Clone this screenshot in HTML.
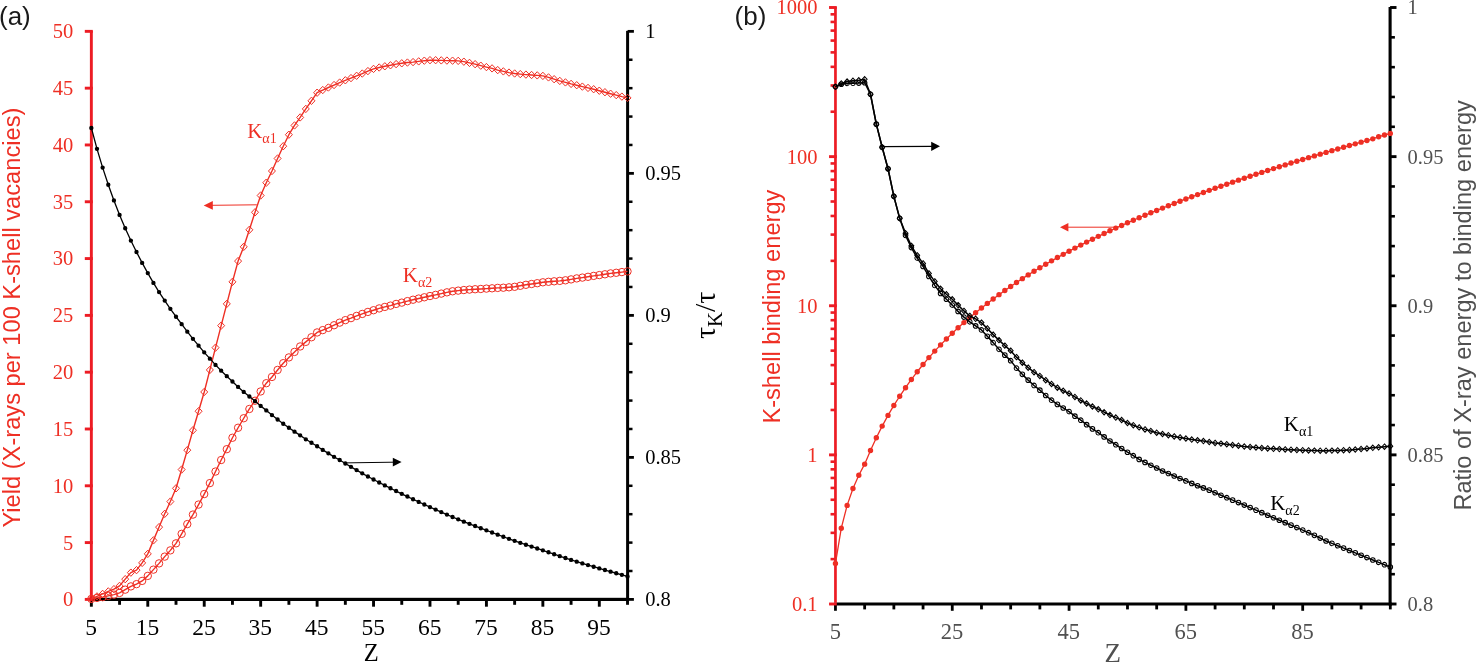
<!DOCTYPE html>
<html><head><meta charset="utf-8"><title>Figure</title>
<style>
html,body{margin:0;padding:0;background:#fff;}
body{width:1476px;height:662px;overflow:hidden;font-family:"Liberation Serif",serif;}
svg{display:block;opacity:0.999;will-change:opacity;}
</style></head><body>
<svg width="1476" height="662" viewBox="0 0 1476 662">
<rect x="89.9" y="597.8" width="539.2" height="3.2" fill="#000000"/>
<rect x="89.9" y="599.4" width="2.9" height="7.3" fill="#000000"/>
<rect x="118.12" y="599.4" width="2.9" height="5.4" fill="#000000"/>
<rect x="146.34" y="599.4" width="2.9" height="7.3" fill="#000000"/>
<rect x="174.56" y="599.4" width="2.9" height="5.4" fill="#000000"/>
<rect x="202.78" y="599.4" width="2.9" height="7.3" fill="#000000"/>
<rect x="231" y="599.4" width="2.9" height="5.4" fill="#000000"/>
<rect x="259.22" y="599.4" width="2.9" height="7.3" fill="#000000"/>
<rect x="287.44" y="599.4" width="2.9" height="5.4" fill="#000000"/>
<rect x="315.66" y="599.4" width="2.9" height="7.3" fill="#000000"/>
<rect x="343.88" y="599.4" width="2.9" height="5.4" fill="#000000"/>
<rect x="372.09" y="599.4" width="2.9" height="7.3" fill="#000000"/>
<rect x="400.31" y="599.4" width="2.9" height="5.4" fill="#000000"/>
<rect x="428.53" y="599.4" width="2.9" height="7.3" fill="#000000"/>
<rect x="456.75" y="599.4" width="2.9" height="5.4" fill="#000000"/>
<rect x="484.97" y="599.4" width="2.9" height="7.3" fill="#000000"/>
<rect x="513.19" y="599.4" width="2.9" height="5.4" fill="#000000"/>
<rect x="541.41" y="599.4" width="2.9" height="7.3" fill="#000000"/>
<rect x="569.63" y="599.4" width="2.9" height="5.4" fill="#000000"/>
<rect x="597.85" y="599.4" width="2.9" height="7.3" fill="#000000"/>
<rect x="626.07" y="599.4" width="2.9" height="5.4" fill="#000000"/>
<rect x="626.1" y="30.85" width="3" height="570.15" fill="#000000"/>
<rect x="627.6" y="29.95" width="6.3" height="2.8" fill="#000000"/>
<rect x="627.6" y="58.5" width="4.9" height="2.5" fill="#000000"/>
<rect x="627.6" y="86.91" width="4.9" height="2.5" fill="#000000"/>
<rect x="627.6" y="115.31" width="4.9" height="2.5" fill="#000000"/>
<rect x="627.6" y="143.71" width="4.9" height="2.5" fill="#000000"/>
<rect x="627.6" y="171.96" width="6.3" height="2.8" fill="#000000"/>
<rect x="627.6" y="200.51" width="4.9" height="2.5" fill="#000000"/>
<rect x="627.6" y="228.92" width="4.9" height="2.5" fill="#000000"/>
<rect x="627.6" y="257.32" width="4.9" height="2.5" fill="#000000"/>
<rect x="627.6" y="285.72" width="4.9" height="2.5" fill="#000000"/>
<rect x="627.6" y="313.98" width="6.3" height="2.8" fill="#000000"/>
<rect x="627.6" y="342.53" width="4.9" height="2.5" fill="#000000"/>
<rect x="627.6" y="370.93" width="4.9" height="2.5" fill="#000000"/>
<rect x="627.6" y="399.33" width="4.9" height="2.5" fill="#000000"/>
<rect x="627.6" y="427.73" width="4.9" height="2.5" fill="#000000"/>
<rect x="627.6" y="455.99" width="6.3" height="2.8" fill="#000000"/>
<rect x="627.6" y="484.54" width="4.9" height="2.5" fill="#000000"/>
<rect x="627.6" y="512.94" width="4.9" height="2.5" fill="#000000"/>
<rect x="627.6" y="541.35" width="4.9" height="2.5" fill="#000000"/>
<rect x="627.6" y="569.75" width="4.9" height="2.5" fill="#000000"/>
<rect x="627.6" y="598" width="6.3" height="2.8" fill="#000000"/>
<rect x="89.9" y="30.85" width="2.9" height="570.05" fill="#ed1c24"/>
<rect x="84.8" y="597.95" width="8" height="2.9" fill="#ed1c24"/>
<text x="73.3" y="606.3" font-size="20.5" fill="#ee2f24" text-anchor="end" font-family='"Liberation Serif", serif' >0</text>
<rect x="84.8" y="541.14" width="8" height="2.9" fill="#ed1c24"/>
<text x="73.3" y="549.5" font-size="20.5" fill="#ee2f24" text-anchor="end" font-family='"Liberation Serif", serif' >5</text>
<rect x="84.8" y="484.34" width="8" height="2.9" fill="#ed1c24"/>
<text x="73.3" y="492.69" font-size="20.5" fill="#ee2f24" text-anchor="end" font-family='"Liberation Serif", serif' >10</text>
<rect x="84.8" y="427.54" width="8" height="2.9" fill="#ed1c24"/>
<text x="73.3" y="435.88" font-size="20.5" fill="#ee2f24" text-anchor="end" font-family='"Liberation Serif", serif' >15</text>
<rect x="84.8" y="370.73" width="8" height="2.9" fill="#ed1c24"/>
<text x="73.3" y="379.08" font-size="20.5" fill="#ee2f24" text-anchor="end" font-family='"Liberation Serif", serif' >20</text>
<rect x="84.8" y="313.93" width="8" height="2.9" fill="#ed1c24"/>
<text x="73.3" y="322.27" font-size="20.5" fill="#ee2f24" text-anchor="end" font-family='"Liberation Serif", serif' >25</text>
<rect x="84.8" y="257.12" width="8" height="2.9" fill="#ed1c24"/>
<text x="73.3" y="265.47" font-size="20.5" fill="#ee2f24" text-anchor="end" font-family='"Liberation Serif", serif' >30</text>
<rect x="84.8" y="200.31" width="8" height="2.9" fill="#ed1c24"/>
<text x="73.3" y="208.66" font-size="20.5" fill="#ee2f24" text-anchor="end" font-family='"Liberation Serif", serif' >35</text>
<rect x="84.8" y="143.51" width="8" height="2.9" fill="#ed1c24"/>
<text x="73.3" y="151.86" font-size="20.5" fill="#ee2f24" text-anchor="end" font-family='"Liberation Serif", serif' >40</text>
<rect x="84.8" y="86.71" width="8" height="2.9" fill="#ed1c24"/>
<text x="73.3" y="95.06" font-size="20.5" fill="#ee2f24" text-anchor="end" font-family='"Liberation Serif", serif' >45</text>
<rect x="84.8" y="29.9" width="8" height="2.9" fill="#ed1c24"/>
<text x="73.3" y="38.25" font-size="20.5" fill="#ee2f24" text-anchor="end" font-family='"Liberation Serif", serif' >50</text>
<text x="91.05" y="634.7" font-size="23.5" fill="#000000" text-anchor="middle" font-family='"Liberation Serif", serif' >5</text>
<text x="147.49" y="634.7" font-size="23.5" fill="#000000" text-anchor="middle" font-family='"Liberation Serif", serif' >15</text>
<text x="203.93" y="634.7" font-size="23.5" fill="#000000" text-anchor="middle" font-family='"Liberation Serif", serif' >25</text>
<text x="260.37" y="634.7" font-size="23.5" fill="#000000" text-anchor="middle" font-family='"Liberation Serif", serif' >35</text>
<text x="316.81" y="634.7" font-size="23.5" fill="#000000" text-anchor="middle" font-family='"Liberation Serif", serif' >45</text>
<text x="373.24" y="634.7" font-size="23.5" fill="#000000" text-anchor="middle" font-family='"Liberation Serif", serif' >55</text>
<text x="429.68" y="634.7" font-size="23.5" fill="#000000" text-anchor="middle" font-family='"Liberation Serif", serif' >65</text>
<text x="486.12" y="634.7" font-size="23.5" fill="#000000" text-anchor="middle" font-family='"Liberation Serif", serif' >75</text>
<text x="542.56" y="634.7" font-size="23.5" fill="#000000" text-anchor="middle" font-family='"Liberation Serif", serif' >85</text>
<text x="599" y="634.7" font-size="23.5" fill="#000000" text-anchor="middle" font-family='"Liberation Serif", serif' >95</text>
<text x="371.2" y="660.8" font-size="24.5" fill="#000000" text-anchor="middle" font-family='"Liberation Serif", serif' >Z</text>
<text x="645.2" y="38.25" font-size="20.5" fill="#000000" text-anchor="start" font-family='"Liberation Serif", serif' >1</text>
<text x="645.2" y="180.26" font-size="20.5" fill="#000000" text-anchor="start" font-family='"Liberation Serif", serif' >0.95</text>
<text x="645.2" y="322.27" font-size="20.5" fill="#000000" text-anchor="start" font-family='"Liberation Serif", serif' >0.9</text>
<text x="645.2" y="464.29" font-size="20.5" fill="#000000" text-anchor="start" font-family='"Liberation Serif", serif' >0.85</text>
<text x="645.2" y="606.3" font-size="20.5" fill="#000000" text-anchor="start" font-family='"Liberation Serif", serif' >0.8</text>
<rect x="834.1" y="602.5" width="557.5" height="3" fill="#000000"/>
<rect x="834.05" y="604" width="2.8" height="6.8" fill="#000000"/>
<rect x="863.25" y="604" width="2.8" height="5.4" fill="#000000"/>
<rect x="892.46" y="604" width="2.8" height="5.4" fill="#000000"/>
<rect x="921.66" y="604" width="2.8" height="5.4" fill="#000000"/>
<rect x="950.86" y="604" width="2.8" height="6.8" fill="#000000"/>
<rect x="980.07" y="604" width="2.8" height="5.4" fill="#000000"/>
<rect x="1009.27" y="604" width="2.8" height="5.4" fill="#000000"/>
<rect x="1038.47" y="604" width="2.8" height="5.4" fill="#000000"/>
<rect x="1067.67" y="604" width="2.8" height="6.8" fill="#000000"/>
<rect x="1096.88" y="604" width="2.8" height="5.4" fill="#000000"/>
<rect x="1126.08" y="604" width="2.8" height="5.4" fill="#000000"/>
<rect x="1155.28" y="604" width="2.8" height="5.4" fill="#000000"/>
<rect x="1184.49" y="604" width="2.8" height="6.8" fill="#000000"/>
<rect x="1213.69" y="604" width="2.8" height="5.4" fill="#000000"/>
<rect x="1242.89" y="604" width="2.8" height="5.4" fill="#000000"/>
<rect x="1272.1" y="604" width="2.8" height="5.4" fill="#000000"/>
<rect x="1301.3" y="604" width="2.8" height="6.8" fill="#000000"/>
<rect x="1330.5" y="604" width="2.8" height="5.4" fill="#000000"/>
<rect x="1359.7" y="604" width="2.8" height="5.4" fill="#000000"/>
<rect x="1388.91" y="604" width="2.8" height="5.4" fill="#000000"/>
<rect x="1388.55" y="7" width="3.1" height="598.5" fill="#000000"/>
<rect x="1390.1" y="6.05" width="6.4" height="2.9" fill="#000000"/>
<rect x="1390.1" y="36.03" width="4.8" height="2.6" fill="#000000"/>
<rect x="1390.1" y="65.85" width="4.8" height="2.6" fill="#000000"/>
<rect x="1390.1" y="95.67" width="4.8" height="2.6" fill="#000000"/>
<rect x="1390.1" y="125.5" width="4.8" height="2.6" fill="#000000"/>
<rect x="1390.1" y="155.18" width="6.4" height="2.9" fill="#000000"/>
<rect x="1390.1" y="185.15" width="4.8" height="2.6" fill="#000000"/>
<rect x="1390.1" y="214.97" width="4.8" height="2.6" fill="#000000"/>
<rect x="1390.1" y="244.8" width="4.8" height="2.6" fill="#000000"/>
<rect x="1390.1" y="274.62" width="4.8" height="2.6" fill="#000000"/>
<rect x="1390.1" y="304.3" width="6.4" height="2.9" fill="#000000"/>
<rect x="1390.1" y="334.27" width="4.8" height="2.6" fill="#000000"/>
<rect x="1390.1" y="364.1" width="4.8" height="2.6" fill="#000000"/>
<rect x="1390.1" y="393.93" width="4.8" height="2.6" fill="#000000"/>
<rect x="1390.1" y="423.75" width="4.8" height="2.6" fill="#000000"/>
<rect x="1390.1" y="453.43" width="6.4" height="2.9" fill="#000000"/>
<rect x="1390.1" y="483.4" width="4.8" height="2.6" fill="#000000"/>
<rect x="1390.1" y="513.23" width="4.8" height="2.6" fill="#000000"/>
<rect x="1390.1" y="543.05" width="4.8" height="2.6" fill="#000000"/>
<rect x="1390.1" y="572.88" width="4.8" height="2.6" fill="#000000"/>
<rect x="1390.1" y="602.55" width="6.4" height="2.9" fill="#000000"/>
<rect x="834.1" y="7" width="2.7" height="595.6" fill="#ed1c24"/>
<rect x="829.05" y="6.05" width="7.75" height="2.9" fill="#ed1c24"/>
<rect x="830.55" y="110.43" width="4.9" height="2.6" fill="#ed1c24"/>
<rect x="830.55" y="84.17" width="4.9" height="2.6" fill="#ed1c24"/>
<rect x="830.55" y="65.54" width="4.9" height="2.6" fill="#ed1c24"/>
<rect x="830.55" y="51.09" width="4.9" height="2.6" fill="#ed1c24"/>
<rect x="830.55" y="39.28" width="4.9" height="2.6" fill="#ed1c24"/>
<rect x="830.55" y="29.3" width="4.9" height="2.6" fill="#ed1c24"/>
<rect x="830.55" y="20.65" width="4.9" height="2.6" fill="#ed1c24"/>
<rect x="830.55" y="13.02" width="4.9" height="2.6" fill="#ed1c24"/>
<rect x="829.05" y="155.18" width="7.75" height="2.9" fill="#ed1c24"/>
<rect x="830.55" y="259.56" width="4.9" height="2.6" fill="#ed1c24"/>
<rect x="830.55" y="233.3" width="4.9" height="2.6" fill="#ed1c24"/>
<rect x="830.55" y="214.67" width="4.9" height="2.6" fill="#ed1c24"/>
<rect x="830.55" y="200.22" width="4.9" height="2.6" fill="#ed1c24"/>
<rect x="830.55" y="188.41" width="4.9" height="2.6" fill="#ed1c24"/>
<rect x="830.55" y="178.42" width="4.9" height="2.6" fill="#ed1c24"/>
<rect x="830.55" y="169.78" width="4.9" height="2.6" fill="#ed1c24"/>
<rect x="830.55" y="162.15" width="4.9" height="2.6" fill="#ed1c24"/>
<rect x="829.05" y="304.3" width="7.75" height="2.9" fill="#ed1c24"/>
<rect x="830.55" y="408.68" width="4.9" height="2.6" fill="#ed1c24"/>
<rect x="830.55" y="382.42" width="4.9" height="2.6" fill="#ed1c24"/>
<rect x="830.55" y="363.79" width="4.9" height="2.6" fill="#ed1c24"/>
<rect x="830.55" y="349.34" width="4.9" height="2.6" fill="#ed1c24"/>
<rect x="830.55" y="337.53" width="4.9" height="2.6" fill="#ed1c24"/>
<rect x="830.55" y="327.55" width="4.9" height="2.6" fill="#ed1c24"/>
<rect x="830.55" y="318.9" width="4.9" height="2.6" fill="#ed1c24"/>
<rect x="830.55" y="311.27" width="4.9" height="2.6" fill="#ed1c24"/>
<rect x="829.05" y="453.43" width="7.75" height="2.9" fill="#ed1c24"/>
<rect x="830.55" y="557.81" width="4.9" height="2.6" fill="#ed1c24"/>
<rect x="830.55" y="531.55" width="4.9" height="2.6" fill="#ed1c24"/>
<rect x="830.55" y="512.92" width="4.9" height="2.6" fill="#ed1c24"/>
<rect x="830.55" y="498.47" width="4.9" height="2.6" fill="#ed1c24"/>
<rect x="830.55" y="486.66" width="4.9" height="2.6" fill="#ed1c24"/>
<rect x="830.55" y="476.67" width="4.9" height="2.6" fill="#ed1c24"/>
<rect x="830.55" y="468.03" width="4.9" height="2.6" fill="#ed1c24"/>
<rect x="830.55" y="460.4" width="4.9" height="2.6" fill="#ed1c24"/>
<rect x="829.05" y="602.55" width="7.75" height="2.9" fill="#ed1c24"/>
<text x="817.5" y="14.4" font-size="20.5" fill="#ee2f24" text-anchor="end" font-family='"Liberation Serif", serif' >1000</text>
<text x="817.5" y="163.53" font-size="20.5" fill="#ee2f24" text-anchor="end" font-family='"Liberation Serif", serif' >100</text>
<text x="817.5" y="312.65" font-size="20.5" fill="#ee2f24" text-anchor="end" font-family='"Liberation Serif", serif' >10</text>
<text x="817.5" y="461.77" font-size="20.5" fill="#ee2f24" text-anchor="end" font-family='"Liberation Serif", serif' >1</text>
<text x="817.5" y="610.9" font-size="20.5" fill="#ee2f24" text-anchor="end" font-family='"Liberation Serif", serif' >0.1</text>
<text x="835.25" y="639.2" font-size="22.5" fill="#505050" text-anchor="middle" font-family='"Liberation Serif", serif' >5</text>
<text x="952.06" y="639.2" font-size="22.5" fill="#505050" text-anchor="middle" font-family='"Liberation Serif", serif' >25</text>
<text x="1068.87" y="639.2" font-size="22.5" fill="#505050" text-anchor="middle" font-family='"Liberation Serif", serif' >45</text>
<text x="1185.69" y="639.2" font-size="22.5" fill="#505050" text-anchor="middle" font-family='"Liberation Serif", serif' >65</text>
<text x="1302.5" y="639.2" font-size="22.5" fill="#505050" text-anchor="middle" font-family='"Liberation Serif", serif' >85</text>
<text x="1112.7" y="661.5" font-size="27" fill="#505050" text-anchor="middle" font-family='"Liberation Serif", serif' >Z</text>
<text x="1407.6" y="14.4" font-size="20.5" fill="#505050" text-anchor="start" font-family='"Liberation Serif", serif' >1</text>
<text x="1407.6" y="163.53" font-size="20.5" fill="#505050" text-anchor="start" font-family='"Liberation Serif", serif' >0.95</text>
<text x="1407.6" y="312.65" font-size="20.5" fill="#505050" text-anchor="start" font-family='"Liberation Serif", serif' >0.9</text>
<text x="1407.6" y="461.77" font-size="20.5" fill="#505050" text-anchor="start" font-family='"Liberation Serif", serif' >0.85</text>
<text x="1407.6" y="610.9" font-size="20.5" fill="#505050" text-anchor="start" font-family='"Liberation Serif", serif' >0.8</text>
<path d="M91.35 598.92 L96.99 597.92 L102.64 597.17 L108.28 595.91 L113.93 594.66 L119.57 592.91 L125.21 589.66 L130.86 586.4 L136.5 584.15 L142.15 580.9 L147.79 575.89 L153.43 569.64 L159.08 563.38 L164.72 556.62 L170.36 550.37 L176.01 543.36 L181.65 533.85 L187.3 524.09 L192.94 514.58 L198.58 504.57 L204.23 494.06 L209.87 483.1 L215.52 471.54 L221.16 460.03 L226.8 449.17 L232.45 437.76 L238.09 427.75 L243.74 418.24 L249.38 408.98 L255.02 400.72 L260.67 391.46 L266.31 383.2 L271.95 376.95 L277.6 369.94 L283.24 363.18 L288.89 357.43 L294.53 351.92 L300.17 346.46 L305.82 341.86 L311.46 337.26 L317.11 332.45 L322.75 330.11 L328.39 327.88 L334.04 325.24 L339.68 322.64 L345.33 320.14 L350.97 318.14 L356.61 315.93 L362.26 313.93 L367.9 311.93 L373.54 310.23 L379.19 308.43 L384.83 306.92 L390.48 305.62 L396.12 303.92 L401.76 302.62 L407.41 301.12 L413.05 299.72 L418.7 298.55 L424.34 297.29 L429.98 296.03 L435.63 294.87 L441.27 293.6 L446.92 292.34 L452.56 291.28 L458.2 290.62 L463.85 290.05 L469.49 289.59 L475.14 289.23 L480.78 288.97 L486.42 288.61 L492.07 288.31 L497.71 287.91 L503.35 287.71 L509 287.31 L514.64 286.81 L520.29 285.8 L525.93 284.8 L531.57 284 L537.22 283.2 L542.86 282.3 L548.51 281.8 L554.15 281.3 L559.79 280.9 L565.44 280.3 L571.08 279.4 L576.73 278.4 L582.37 277.6 L588.01 276.8 L593.66 275.89 L599.3 275.09 L604.94 274.29 L610.59 273.39 L616.23 272.79 L621.88 272.09 L627.52 271.39" fill="none" stroke="#ee2f24" stroke-width="1.4" stroke-linejoin="round"/>
<path d="M87.65 598.92a3.7 3.7 0 1 0 7.4 0a3.7 3.7 0 1 0 -7.4 0zM93.29 597.92a3.7 3.7 0 1 0 7.4 0a3.7 3.7 0 1 0 -7.4 0zM98.94 597.17a3.7 3.7 0 1 0 7.4 0a3.7 3.7 0 1 0 -7.4 0zM104.58 595.91a3.7 3.7 0 1 0 7.4 0a3.7 3.7 0 1 0 -7.4 0zM110.23 594.66a3.7 3.7 0 1 0 7.4 0a3.7 3.7 0 1 0 -7.4 0zM115.87 592.91a3.7 3.7 0 1 0 7.4 0a3.7 3.7 0 1 0 -7.4 0zM121.51 589.66a3.7 3.7 0 1 0 7.4 0a3.7 3.7 0 1 0 -7.4 0zM127.16 586.4a3.7 3.7 0 1 0 7.4 0a3.7 3.7 0 1 0 -7.4 0zM132.8 584.15a3.7 3.7 0 1 0 7.4 0a3.7 3.7 0 1 0 -7.4 0zM138.45 580.9a3.7 3.7 0 1 0 7.4 0a3.7 3.7 0 1 0 -7.4 0zM144.09 575.89a3.7 3.7 0 1 0 7.4 0a3.7 3.7 0 1 0 -7.4 0zM149.73 569.64a3.7 3.7 0 1 0 7.4 0a3.7 3.7 0 1 0 -7.4 0zM155.38 563.38a3.7 3.7 0 1 0 7.4 0a3.7 3.7 0 1 0 -7.4 0zM161.02 556.62a3.7 3.7 0 1 0 7.4 0a3.7 3.7 0 1 0 -7.4 0zM166.66 550.37a3.7 3.7 0 1 0 7.4 0a3.7 3.7 0 1 0 -7.4 0zM172.31 543.36a3.7 3.7 0 1 0 7.4 0a3.7 3.7 0 1 0 -7.4 0zM177.95 533.85a3.7 3.7 0 1 0 7.4 0a3.7 3.7 0 1 0 -7.4 0zM183.6 524.09a3.7 3.7 0 1 0 7.4 0a3.7 3.7 0 1 0 -7.4 0zM189.24 514.58a3.7 3.7 0 1 0 7.4 0a3.7 3.7 0 1 0 -7.4 0zM194.88 504.57a3.7 3.7 0 1 0 7.4 0a3.7 3.7 0 1 0 -7.4 0zM200.53 494.06a3.7 3.7 0 1 0 7.4 0a3.7 3.7 0 1 0 -7.4 0zM206.17 483.1a3.7 3.7 0 1 0 7.4 0a3.7 3.7 0 1 0 -7.4 0zM211.82 471.54a3.7 3.7 0 1 0 7.4 0a3.7 3.7 0 1 0 -7.4 0zM217.46 460.03a3.7 3.7 0 1 0 7.4 0a3.7 3.7 0 1 0 -7.4 0zM223.1 449.17a3.7 3.7 0 1 0 7.4 0a3.7 3.7 0 1 0 -7.4 0zM228.75 437.76a3.7 3.7 0 1 0 7.4 0a3.7 3.7 0 1 0 -7.4 0zM234.39 427.75a3.7 3.7 0 1 0 7.4 0a3.7 3.7 0 1 0 -7.4 0zM240.04 418.24a3.7 3.7 0 1 0 7.4 0a3.7 3.7 0 1 0 -7.4 0zM245.68 408.98a3.7 3.7 0 1 0 7.4 0a3.7 3.7 0 1 0 -7.4 0zM251.32 400.72a3.7 3.7 0 1 0 7.4 0a3.7 3.7 0 1 0 -7.4 0zM256.97 391.46a3.7 3.7 0 1 0 7.4 0a3.7 3.7 0 1 0 -7.4 0zM262.61 383.2a3.7 3.7 0 1 0 7.4 0a3.7 3.7 0 1 0 -7.4 0zM268.25 376.95a3.7 3.7 0 1 0 7.4 0a3.7 3.7 0 1 0 -7.4 0zM273.9 369.94a3.7 3.7 0 1 0 7.4 0a3.7 3.7 0 1 0 -7.4 0zM279.54 363.18a3.7 3.7 0 1 0 7.4 0a3.7 3.7 0 1 0 -7.4 0zM285.19 357.43a3.7 3.7 0 1 0 7.4 0a3.7 3.7 0 1 0 -7.4 0zM290.83 351.92a3.7 3.7 0 1 0 7.4 0a3.7 3.7 0 1 0 -7.4 0zM296.47 346.46a3.7 3.7 0 1 0 7.4 0a3.7 3.7 0 1 0 -7.4 0zM302.12 341.86a3.7 3.7 0 1 0 7.4 0a3.7 3.7 0 1 0 -7.4 0zM307.76 337.26a3.7 3.7 0 1 0 7.4 0a3.7 3.7 0 1 0 -7.4 0zM313.41 332.45a3.7 3.7 0 1 0 7.4 0a3.7 3.7 0 1 0 -7.4 0zM319.05 330.11a3.7 3.7 0 1 0 7.4 0a3.7 3.7 0 1 0 -7.4 0zM324.69 327.88a3.7 3.7 0 1 0 7.4 0a3.7 3.7 0 1 0 -7.4 0zM330.34 325.24a3.7 3.7 0 1 0 7.4 0a3.7 3.7 0 1 0 -7.4 0zM335.98 322.64a3.7 3.7 0 1 0 7.4 0a3.7 3.7 0 1 0 -7.4 0zM341.63 320.14a3.7 3.7 0 1 0 7.4 0a3.7 3.7 0 1 0 -7.4 0zM347.27 318.14a3.7 3.7 0 1 0 7.4 0a3.7 3.7 0 1 0 -7.4 0zM352.91 315.93a3.7 3.7 0 1 0 7.4 0a3.7 3.7 0 1 0 -7.4 0zM358.56 313.93a3.7 3.7 0 1 0 7.4 0a3.7 3.7 0 1 0 -7.4 0zM364.2 311.93a3.7 3.7 0 1 0 7.4 0a3.7 3.7 0 1 0 -7.4 0zM369.84 310.23a3.7 3.7 0 1 0 7.4 0a3.7 3.7 0 1 0 -7.4 0zM375.49 308.43a3.7 3.7 0 1 0 7.4 0a3.7 3.7 0 1 0 -7.4 0zM381.13 306.92a3.7 3.7 0 1 0 7.4 0a3.7 3.7 0 1 0 -7.4 0zM386.78 305.62a3.7 3.7 0 1 0 7.4 0a3.7 3.7 0 1 0 -7.4 0zM392.42 303.92a3.7 3.7 0 1 0 7.4 0a3.7 3.7 0 1 0 -7.4 0zM398.06 302.62a3.7 3.7 0 1 0 7.4 0a3.7 3.7 0 1 0 -7.4 0zM403.71 301.12a3.7 3.7 0 1 0 7.4 0a3.7 3.7 0 1 0 -7.4 0zM409.35 299.72a3.7 3.7 0 1 0 7.4 0a3.7 3.7 0 1 0 -7.4 0zM415 298.55a3.7 3.7 0 1 0 7.4 0a3.7 3.7 0 1 0 -7.4 0zM420.64 297.29a3.7 3.7 0 1 0 7.4 0a3.7 3.7 0 1 0 -7.4 0zM426.28 296.03a3.7 3.7 0 1 0 7.4 0a3.7 3.7 0 1 0 -7.4 0zM431.93 294.87a3.7 3.7 0 1 0 7.4 0a3.7 3.7 0 1 0 -7.4 0zM437.57 293.6a3.7 3.7 0 1 0 7.4 0a3.7 3.7 0 1 0 -7.4 0zM443.22 292.34a3.7 3.7 0 1 0 7.4 0a3.7 3.7 0 1 0 -7.4 0zM448.86 291.28a3.7 3.7 0 1 0 7.4 0a3.7 3.7 0 1 0 -7.4 0zM454.5 290.62a3.7 3.7 0 1 0 7.4 0a3.7 3.7 0 1 0 -7.4 0zM460.15 290.05a3.7 3.7 0 1 0 7.4 0a3.7 3.7 0 1 0 -7.4 0zM465.79 289.59a3.7 3.7 0 1 0 7.4 0a3.7 3.7 0 1 0 -7.4 0zM471.44 289.23a3.7 3.7 0 1 0 7.4 0a3.7 3.7 0 1 0 -7.4 0zM477.08 288.97a3.7 3.7 0 1 0 7.4 0a3.7 3.7 0 1 0 -7.4 0zM482.72 288.61a3.7 3.7 0 1 0 7.4 0a3.7 3.7 0 1 0 -7.4 0zM488.37 288.31a3.7 3.7 0 1 0 7.4 0a3.7 3.7 0 1 0 -7.4 0zM494.01 287.91a3.7 3.7 0 1 0 7.4 0a3.7 3.7 0 1 0 -7.4 0zM499.65 287.71a3.7 3.7 0 1 0 7.4 0a3.7 3.7 0 1 0 -7.4 0zM505.3 287.31a3.7 3.7 0 1 0 7.4 0a3.7 3.7 0 1 0 -7.4 0zM510.94 286.81a3.7 3.7 0 1 0 7.4 0a3.7 3.7 0 1 0 -7.4 0zM516.59 285.8a3.7 3.7 0 1 0 7.4 0a3.7 3.7 0 1 0 -7.4 0zM522.23 284.8a3.7 3.7 0 1 0 7.4 0a3.7 3.7 0 1 0 -7.4 0zM527.87 284a3.7 3.7 0 1 0 7.4 0a3.7 3.7 0 1 0 -7.4 0zM533.52 283.2a3.7 3.7 0 1 0 7.4 0a3.7 3.7 0 1 0 -7.4 0zM539.16 282.3a3.7 3.7 0 1 0 7.4 0a3.7 3.7 0 1 0 -7.4 0zM544.81 281.8a3.7 3.7 0 1 0 7.4 0a3.7 3.7 0 1 0 -7.4 0zM550.45 281.3a3.7 3.7 0 1 0 7.4 0a3.7 3.7 0 1 0 -7.4 0zM556.09 280.9a3.7 3.7 0 1 0 7.4 0a3.7 3.7 0 1 0 -7.4 0zM561.74 280.3a3.7 3.7 0 1 0 7.4 0a3.7 3.7 0 1 0 -7.4 0zM567.38 279.4a3.7 3.7 0 1 0 7.4 0a3.7 3.7 0 1 0 -7.4 0zM573.03 278.4a3.7 3.7 0 1 0 7.4 0a3.7 3.7 0 1 0 -7.4 0zM578.67 277.6a3.7 3.7 0 1 0 7.4 0a3.7 3.7 0 1 0 -7.4 0zM584.31 276.8a3.7 3.7 0 1 0 7.4 0a3.7 3.7 0 1 0 -7.4 0zM589.96 275.89a3.7 3.7 0 1 0 7.4 0a3.7 3.7 0 1 0 -7.4 0zM595.6 275.09a3.7 3.7 0 1 0 7.4 0a3.7 3.7 0 1 0 -7.4 0zM601.24 274.29a3.7 3.7 0 1 0 7.4 0a3.7 3.7 0 1 0 -7.4 0zM606.89 273.39a3.7 3.7 0 1 0 7.4 0a3.7 3.7 0 1 0 -7.4 0zM612.53 272.79a3.7 3.7 0 1 0 7.4 0a3.7 3.7 0 1 0 -7.4 0zM618.18 272.09a3.7 3.7 0 1 0 7.4 0a3.7 3.7 0 1 0 -7.4 0zM623.82 271.39a3.7 3.7 0 1 0 7.4 0a3.7 3.7 0 1 0 -7.4 0z" fill="none" stroke="#ee2f24" stroke-width="1.0"/>
<path d="M91.35 598.92 L96.99 596.41 L102.64 593.91 L108.28 591.41 L113.93 589.16 L119.57 585.9 L125.21 579.15 L130.86 572.64 L136.5 570.14 L142.15 562.88 L147.79 553.87 L153.43 540.36 L159.08 527.1 L164.72 513.83 L170.36 501.57 L176.01 488.31 L181.65 469.54 L187.3 450.17 L192.94 430.25 L198.58 411.23 L204.23 391.96 L209.87 369.94 L215.52 347.67 L221.16 325.64 L226.8 303.87 L232.45 281.85 L238.09 261.08 L243.74 246.82 L249.38 229.8 L255.02 212.28 L260.67 195.51 L266.31 182.7 L271.95 170.99 L277.6 158.48 L283.24 146.21 L288.89 134.7 L294.53 125.44 L300.17 117.44 L305.82 108.93 L311.46 100.82 L317.11 92.71 L322.75 90.04 L328.39 87.5 L334.04 85.03 L339.68 82.55 L345.33 80.3 L350.97 78.1 L356.61 75.8 L362.26 73.55 L367.9 71.1 L373.54 68.9 L379.19 67.5 L384.83 66.3 L390.48 65.3 L396.12 64.1 L401.76 63.3 L407.41 62.55 L413.05 62.08 L418.7 61.38 L424.34 60.68 L429.98 60.18 L435.63 60.18 L441.27 60.38 L446.92 60.58 L452.56 60.68 L458.2 60.88 L463.85 61.68 L469.49 62.88 L475.14 64.18 L480.78 65.68 L486.42 67.09 L492.07 68.39 L497.71 70.09 L503.35 71.39 L509 72.59 L514.64 73.49 L520.29 74.09 L525.93 74.59 L531.57 74.99 L537.22 75.39 L542.86 75.89 L548.51 77.4 L554.15 79.2 L559.79 80.9 L565.44 82.4 L571.08 83.9 L576.73 85.2 L582.37 86.61 L588.01 87.91 L593.66 89.21 L599.3 90.71 L604.94 92.21 L610.59 93.71 L616.23 95.11 L621.88 96.62 L627.52 97.92" fill="none" stroke="#ee2f24" stroke-width="1.4" stroke-linejoin="round"/>
<path d="M91.35 595.22l3.5 3.7l-3.5 3.7l-3.5 -3.7zM96.99 592.71l3.5 3.7l-3.5 3.7l-3.5 -3.7zM102.64 590.21l3.5 3.7l-3.5 3.7l-3.5 -3.7zM108.28 587.71l3.5 3.7l-3.5 3.7l-3.5 -3.7zM113.93 585.46l3.5 3.7l-3.5 3.7l-3.5 -3.7zM119.57 582.2l3.5 3.7l-3.5 3.7l-3.5 -3.7zM125.21 575.45l3.5 3.7l-3.5 3.7l-3.5 -3.7zM130.86 568.94l3.5 3.7l-3.5 3.7l-3.5 -3.7zM136.5 566.44l3.5 3.7l-3.5 3.7l-3.5 -3.7zM142.15 559.18l3.5 3.7l-3.5 3.7l-3.5 -3.7zM147.79 550.17l3.5 3.7l-3.5 3.7l-3.5 -3.7zM153.43 536.66l3.5 3.7l-3.5 3.7l-3.5 -3.7zM159.08 523.4l3.5 3.7l-3.5 3.7l-3.5 -3.7zM164.72 510.13l3.5 3.7l-3.5 3.7l-3.5 -3.7zM170.36 497.87l3.5 3.7l-3.5 3.7l-3.5 -3.7zM176.01 484.61l3.5 3.7l-3.5 3.7l-3.5 -3.7zM181.65 465.84l3.5 3.7l-3.5 3.7l-3.5 -3.7zM187.3 446.47l3.5 3.7l-3.5 3.7l-3.5 -3.7zM192.94 426.55l3.5 3.7l-3.5 3.7l-3.5 -3.7zM198.58 407.53l3.5 3.7l-3.5 3.7l-3.5 -3.7zM204.23 388.26l3.5 3.7l-3.5 3.7l-3.5 -3.7zM209.87 366.24l3.5 3.7l-3.5 3.7l-3.5 -3.7zM215.52 343.97l3.5 3.7l-3.5 3.7l-3.5 -3.7zM221.16 321.94l3.5 3.7l-3.5 3.7l-3.5 -3.7zM226.8 300.17l3.5 3.7l-3.5 3.7l-3.5 -3.7zM232.45 278.15l3.5 3.7l-3.5 3.7l-3.5 -3.7zM238.09 257.38l3.5 3.7l-3.5 3.7l-3.5 -3.7zM243.74 243.12l3.5 3.7l-3.5 3.7l-3.5 -3.7zM249.38 226.1l3.5 3.7l-3.5 3.7l-3.5 -3.7zM255.02 208.58l3.5 3.7l-3.5 3.7l-3.5 -3.7zM260.67 191.81l3.5 3.7l-3.5 3.7l-3.5 -3.7zM266.31 179l3.5 3.7l-3.5 3.7l-3.5 -3.7zM271.95 167.29l3.5 3.7l-3.5 3.7l-3.5 -3.7zM277.6 154.78l3.5 3.7l-3.5 3.7l-3.5 -3.7zM283.24 142.51l3.5 3.7l-3.5 3.7l-3.5 -3.7zM288.89 131l3.5 3.7l-3.5 3.7l-3.5 -3.7zM294.53 121.74l3.5 3.7l-3.5 3.7l-3.5 -3.7zM300.17 113.74l3.5 3.7l-3.5 3.7l-3.5 -3.7zM305.82 105.23l3.5 3.7l-3.5 3.7l-3.5 -3.7zM311.46 97.12l3.5 3.7l-3.5 3.7l-3.5 -3.7zM317.11 89.01l3.5 3.7l-3.5 3.7l-3.5 -3.7zM322.75 86.34l3.5 3.7l-3.5 3.7l-3.5 -3.7zM328.39 83.8l3.5 3.7l-3.5 3.7l-3.5 -3.7zM334.04 81.33l3.5 3.7l-3.5 3.7l-3.5 -3.7zM339.68 78.85l3.5 3.7l-3.5 3.7l-3.5 -3.7zM345.33 76.6l3.5 3.7l-3.5 3.7l-3.5 -3.7zM350.97 74.4l3.5 3.7l-3.5 3.7l-3.5 -3.7zM356.61 72.1l3.5 3.7l-3.5 3.7l-3.5 -3.7zM362.26 69.85l3.5 3.7l-3.5 3.7l-3.5 -3.7zM367.9 67.4l3.5 3.7l-3.5 3.7l-3.5 -3.7zM373.54 65.2l3.5 3.7l-3.5 3.7l-3.5 -3.7zM379.19 63.8l3.5 3.7l-3.5 3.7l-3.5 -3.7zM384.83 62.6l3.5 3.7l-3.5 3.7l-3.5 -3.7zM390.48 61.6l3.5 3.7l-3.5 3.7l-3.5 -3.7zM396.12 60.4l3.5 3.7l-3.5 3.7l-3.5 -3.7zM401.76 59.6l3.5 3.7l-3.5 3.7l-3.5 -3.7zM407.41 58.85l3.5 3.7l-3.5 3.7l-3.5 -3.7zM413.05 58.38l3.5 3.7l-3.5 3.7l-3.5 -3.7zM418.7 57.68l3.5 3.7l-3.5 3.7l-3.5 -3.7zM424.34 56.98l3.5 3.7l-3.5 3.7l-3.5 -3.7zM429.98 56.48l3.5 3.7l-3.5 3.7l-3.5 -3.7zM435.63 56.48l3.5 3.7l-3.5 3.7l-3.5 -3.7zM441.27 56.68l3.5 3.7l-3.5 3.7l-3.5 -3.7zM446.92 56.88l3.5 3.7l-3.5 3.7l-3.5 -3.7zM452.56 56.98l3.5 3.7l-3.5 3.7l-3.5 -3.7zM458.2 57.18l3.5 3.7l-3.5 3.7l-3.5 -3.7zM463.85 57.98l3.5 3.7l-3.5 3.7l-3.5 -3.7zM469.49 59.18l3.5 3.7l-3.5 3.7l-3.5 -3.7zM475.14 60.48l3.5 3.7l-3.5 3.7l-3.5 -3.7zM480.78 61.98l3.5 3.7l-3.5 3.7l-3.5 -3.7zM486.42 63.39l3.5 3.7l-3.5 3.7l-3.5 -3.7zM492.07 64.69l3.5 3.7l-3.5 3.7l-3.5 -3.7zM497.71 66.39l3.5 3.7l-3.5 3.7l-3.5 -3.7zM503.35 67.69l3.5 3.7l-3.5 3.7l-3.5 -3.7zM509 68.89l3.5 3.7l-3.5 3.7l-3.5 -3.7zM514.64 69.79l3.5 3.7l-3.5 3.7l-3.5 -3.7zM520.29 70.39l3.5 3.7l-3.5 3.7l-3.5 -3.7zM525.93 70.89l3.5 3.7l-3.5 3.7l-3.5 -3.7zM531.57 71.29l3.5 3.7l-3.5 3.7l-3.5 -3.7zM537.22 71.69l3.5 3.7l-3.5 3.7l-3.5 -3.7zM542.86 72.19l3.5 3.7l-3.5 3.7l-3.5 -3.7zM548.51 73.7l3.5 3.7l-3.5 3.7l-3.5 -3.7zM554.15 75.5l3.5 3.7l-3.5 3.7l-3.5 -3.7zM559.79 77.2l3.5 3.7l-3.5 3.7l-3.5 -3.7zM565.44 78.7l3.5 3.7l-3.5 3.7l-3.5 -3.7zM571.08 80.2l3.5 3.7l-3.5 3.7l-3.5 -3.7zM576.73 81.5l3.5 3.7l-3.5 3.7l-3.5 -3.7zM582.37 82.91l3.5 3.7l-3.5 3.7l-3.5 -3.7zM588.01 84.21l3.5 3.7l-3.5 3.7l-3.5 -3.7zM593.66 85.51l3.5 3.7l-3.5 3.7l-3.5 -3.7zM599.3 87.01l3.5 3.7l-3.5 3.7l-3.5 -3.7zM604.94 88.51l3.5 3.7l-3.5 3.7l-3.5 -3.7zM610.59 90.01l3.5 3.7l-3.5 3.7l-3.5 -3.7zM616.23 91.41l3.5 3.7l-3.5 3.7l-3.5 -3.7zM621.88 92.92l3.5 3.7l-3.5 3.7l-3.5 -3.7zM627.52 94.22l3.5 3.7l-3.5 3.7l-3.5 -3.7z" fill="none" stroke="#ee2f24" stroke-width="1.0"/>
<path d="M91.35 127.95 L96.99 148.87 L102.64 167.59 L108.28 184.7 L113.93 200.42 L119.57 214.93 L125.21 228.25 L130.86 240.56 L136.5 251.97 L142.15 262.88 L147.79 273.09 L153.43 282.9 L159.08 292.11 L164.72 300.62 L170.36 308.83 L176.01 316.74 L181.65 324.14 L187.3 331.65 L192.94 338.86 L198.58 345.66 L204.23 352.37 L209.87 358.68 L215.52 364.88 L221.16 370.69 L226.8 376.19 L232.45 381.5 L238.09 386.91 L243.74 391.91 L249.38 396.51 L255.02 401.12 L260.67 405.92 L266.31 410.38 L271.95 415.08 L277.6 419.54 L283.24 423.74 L288.89 427.7 L294.53 431.65 L300.17 435.35 L305.82 439.31 L311.46 442.76 L317.11 446.21 L322.75 449.92 L328.39 453.37 L334.04 456.83 L339.68 460.03 L345.33 463.48 L350.97 466.82 L356.61 470.1 L362.26 473.33 L367.9 476.48 L373.54 479.55 L379.19 482.53 L384.83 485.43 L390.48 488.26 L396.12 491.05 L401.76 493.81 L407.41 496.54 L413.05 499.24 L418.7 501.89 L424.34 504.5 L429.98 507.08 L435.63 509.61 L441.27 512.11 L446.92 514.57 L452.56 516.98 L458.2 519.34 L463.85 521.62 L469.49 523.85 L475.14 526.04 L480.78 528.2 L486.42 530.35 L492.07 532.5 L497.71 534.64 L503.35 536.75 L509 538.83 L514.64 540.86 L520.29 542.82 L525.93 544.73 L531.57 546.61 L537.22 548.48 L542.86 550.37 L548.51 552.29 L554.15 554.22 L559.79 556.15 L565.44 558.04 L571.08 559.88 L576.73 561.65 L582.37 563.37 L588.01 565.07 L593.66 566.73 L599.3 568.39 L604.94 570.03 L610.59 571.65 L616.23 573.25 L621.88 574.83 L627.52 576.39" fill="none" stroke="#000000" stroke-width="1.3" stroke-linejoin="round"/>
<path d="M89.17 127.95a2.18 2.18 0 1 0 4.36 0a2.18 2.18 0 1 0 -4.36 0zM94.81 148.87a2.18 2.18 0 1 0 4.36 0a2.18 2.18 0 1 0 -4.36 0zM100.46 167.59a2.18 2.18 0 1 0 4.36 0a2.18 2.18 0 1 0 -4.36 0zM106.1 184.7a2.18 2.18 0 1 0 4.36 0a2.18 2.18 0 1 0 -4.36 0zM111.75 200.42a2.18 2.18 0 1 0 4.36 0a2.18 2.18 0 1 0 -4.36 0zM117.39 214.93a2.18 2.18 0 1 0 4.36 0a2.18 2.18 0 1 0 -4.36 0zM123.03 228.25a2.18 2.18 0 1 0 4.36 0a2.18 2.18 0 1 0 -4.36 0zM128.68 240.56a2.18 2.18 0 1 0 4.36 0a2.18 2.18 0 1 0 -4.36 0zM134.32 251.97a2.18 2.18 0 1 0 4.36 0a2.18 2.18 0 1 0 -4.36 0zM139.97 262.88a2.18 2.18 0 1 0 4.36 0a2.18 2.18 0 1 0 -4.36 0zM145.61 273.09a2.18 2.18 0 1 0 4.36 0a2.18 2.18 0 1 0 -4.36 0zM151.25 282.9a2.18 2.18 0 1 0 4.36 0a2.18 2.18 0 1 0 -4.36 0zM156.9 292.11a2.18 2.18 0 1 0 4.36 0a2.18 2.18 0 1 0 -4.36 0zM162.54 300.62a2.18 2.18 0 1 0 4.36 0a2.18 2.18 0 1 0 -4.36 0zM168.18 308.83a2.18 2.18 0 1 0 4.36 0a2.18 2.18 0 1 0 -4.36 0zM173.83 316.74a2.18 2.18 0 1 0 4.36 0a2.18 2.18 0 1 0 -4.36 0zM179.47 324.14a2.18 2.18 0 1 0 4.36 0a2.18 2.18 0 1 0 -4.36 0zM185.12 331.65a2.18 2.18 0 1 0 4.36 0a2.18 2.18 0 1 0 -4.36 0zM190.76 338.86a2.18 2.18 0 1 0 4.36 0a2.18 2.18 0 1 0 -4.36 0zM196.4 345.66a2.18 2.18 0 1 0 4.36 0a2.18 2.18 0 1 0 -4.36 0zM202.05 352.37a2.18 2.18 0 1 0 4.36 0a2.18 2.18 0 1 0 -4.36 0zM207.69 358.68a2.18 2.18 0 1 0 4.36 0a2.18 2.18 0 1 0 -4.36 0zM213.34 364.88a2.18 2.18 0 1 0 4.36 0a2.18 2.18 0 1 0 -4.36 0zM218.98 370.69a2.18 2.18 0 1 0 4.36 0a2.18 2.18 0 1 0 -4.36 0zM224.62 376.19a2.18 2.18 0 1 0 4.36 0a2.18 2.18 0 1 0 -4.36 0zM230.27 381.5a2.18 2.18 0 1 0 4.36 0a2.18 2.18 0 1 0 -4.36 0zM235.91 386.91a2.18 2.18 0 1 0 4.36 0a2.18 2.18 0 1 0 -4.36 0zM241.56 391.91a2.18 2.18 0 1 0 4.36 0a2.18 2.18 0 1 0 -4.36 0zM247.2 396.51a2.18 2.18 0 1 0 4.36 0a2.18 2.18 0 1 0 -4.36 0zM252.84 401.12a2.18 2.18 0 1 0 4.36 0a2.18 2.18 0 1 0 -4.36 0zM258.49 405.92a2.18 2.18 0 1 0 4.36 0a2.18 2.18 0 1 0 -4.36 0zM264.13 410.38a2.18 2.18 0 1 0 4.36 0a2.18 2.18 0 1 0 -4.36 0zM269.77 415.08a2.18 2.18 0 1 0 4.36 0a2.18 2.18 0 1 0 -4.36 0zM275.42 419.54a2.18 2.18 0 1 0 4.36 0a2.18 2.18 0 1 0 -4.36 0zM281.06 423.74a2.18 2.18 0 1 0 4.36 0a2.18 2.18 0 1 0 -4.36 0zM286.71 427.7a2.18 2.18 0 1 0 4.36 0a2.18 2.18 0 1 0 -4.36 0zM292.35 431.65a2.18 2.18 0 1 0 4.36 0a2.18 2.18 0 1 0 -4.36 0zM297.99 435.35a2.18 2.18 0 1 0 4.36 0a2.18 2.18 0 1 0 -4.36 0zM303.64 439.31a2.18 2.18 0 1 0 4.36 0a2.18 2.18 0 1 0 -4.36 0zM309.28 442.76a2.18 2.18 0 1 0 4.36 0a2.18 2.18 0 1 0 -4.36 0zM314.93 446.21a2.18 2.18 0 1 0 4.36 0a2.18 2.18 0 1 0 -4.36 0zM320.57 449.92a2.18 2.18 0 1 0 4.36 0a2.18 2.18 0 1 0 -4.36 0zM326.21 453.37a2.18 2.18 0 1 0 4.36 0a2.18 2.18 0 1 0 -4.36 0zM331.86 456.83a2.18 2.18 0 1 0 4.36 0a2.18 2.18 0 1 0 -4.36 0zM337.5 460.03a2.18 2.18 0 1 0 4.36 0a2.18 2.18 0 1 0 -4.36 0zM343.15 463.48a2.18 2.18 0 1 0 4.36 0a2.18 2.18 0 1 0 -4.36 0zM348.79 466.82a2.18 2.18 0 1 0 4.36 0a2.18 2.18 0 1 0 -4.36 0zM354.43 470.1a2.18 2.18 0 1 0 4.36 0a2.18 2.18 0 1 0 -4.36 0zM360.08 473.33a2.18 2.18 0 1 0 4.36 0a2.18 2.18 0 1 0 -4.36 0zM365.72 476.48a2.18 2.18 0 1 0 4.36 0a2.18 2.18 0 1 0 -4.36 0zM371.36 479.55a2.18 2.18 0 1 0 4.36 0a2.18 2.18 0 1 0 -4.36 0zM377.01 482.53a2.18 2.18 0 1 0 4.36 0a2.18 2.18 0 1 0 -4.36 0zM382.65 485.43a2.18 2.18 0 1 0 4.36 0a2.18 2.18 0 1 0 -4.36 0zM388.3 488.26a2.18 2.18 0 1 0 4.36 0a2.18 2.18 0 1 0 -4.36 0zM393.94 491.05a2.18 2.18 0 1 0 4.36 0a2.18 2.18 0 1 0 -4.36 0zM399.58 493.81a2.18 2.18 0 1 0 4.36 0a2.18 2.18 0 1 0 -4.36 0zM405.23 496.54a2.18 2.18 0 1 0 4.36 0a2.18 2.18 0 1 0 -4.36 0zM410.87 499.24a2.18 2.18 0 1 0 4.36 0a2.18 2.18 0 1 0 -4.36 0zM416.52 501.89a2.18 2.18 0 1 0 4.36 0a2.18 2.18 0 1 0 -4.36 0zM422.16 504.5a2.18 2.18 0 1 0 4.36 0a2.18 2.18 0 1 0 -4.36 0zM427.8 507.08a2.18 2.18 0 1 0 4.36 0a2.18 2.18 0 1 0 -4.36 0zM433.45 509.61a2.18 2.18 0 1 0 4.36 0a2.18 2.18 0 1 0 -4.36 0zM439.09 512.11a2.18 2.18 0 1 0 4.36 0a2.18 2.18 0 1 0 -4.36 0zM444.74 514.57a2.18 2.18 0 1 0 4.36 0a2.18 2.18 0 1 0 -4.36 0zM450.38 516.98a2.18 2.18 0 1 0 4.36 0a2.18 2.18 0 1 0 -4.36 0zM456.02 519.34a2.18 2.18 0 1 0 4.36 0a2.18 2.18 0 1 0 -4.36 0zM461.67 521.62a2.18 2.18 0 1 0 4.36 0a2.18 2.18 0 1 0 -4.36 0zM467.31 523.85a2.18 2.18 0 1 0 4.36 0a2.18 2.18 0 1 0 -4.36 0zM472.96 526.04a2.18 2.18 0 1 0 4.36 0a2.18 2.18 0 1 0 -4.36 0zM478.6 528.2a2.18 2.18 0 1 0 4.36 0a2.18 2.18 0 1 0 -4.36 0zM484.24 530.35a2.18 2.18 0 1 0 4.36 0a2.18 2.18 0 1 0 -4.36 0zM489.89 532.5a2.18 2.18 0 1 0 4.36 0a2.18 2.18 0 1 0 -4.36 0zM495.53 534.64a2.18 2.18 0 1 0 4.36 0a2.18 2.18 0 1 0 -4.36 0zM501.17 536.75a2.18 2.18 0 1 0 4.36 0a2.18 2.18 0 1 0 -4.36 0zM506.82 538.83a2.18 2.18 0 1 0 4.36 0a2.18 2.18 0 1 0 -4.36 0zM512.46 540.86a2.18 2.18 0 1 0 4.36 0a2.18 2.18 0 1 0 -4.36 0zM518.11 542.82a2.18 2.18 0 1 0 4.36 0a2.18 2.18 0 1 0 -4.36 0zM523.75 544.73a2.18 2.18 0 1 0 4.36 0a2.18 2.18 0 1 0 -4.36 0zM529.39 546.61a2.18 2.18 0 1 0 4.36 0a2.18 2.18 0 1 0 -4.36 0zM535.04 548.48a2.18 2.18 0 1 0 4.36 0a2.18 2.18 0 1 0 -4.36 0zM540.68 550.37a2.18 2.18 0 1 0 4.36 0a2.18 2.18 0 1 0 -4.36 0zM546.33 552.29a2.18 2.18 0 1 0 4.36 0a2.18 2.18 0 1 0 -4.36 0zM551.97 554.22a2.18 2.18 0 1 0 4.36 0a2.18 2.18 0 1 0 -4.36 0zM557.61 556.15a2.18 2.18 0 1 0 4.36 0a2.18 2.18 0 1 0 -4.36 0zM563.26 558.04a2.18 2.18 0 1 0 4.36 0a2.18 2.18 0 1 0 -4.36 0zM568.9 559.88a2.18 2.18 0 1 0 4.36 0a2.18 2.18 0 1 0 -4.36 0zM574.55 561.65a2.18 2.18 0 1 0 4.36 0a2.18 2.18 0 1 0 -4.36 0zM580.19 563.37a2.18 2.18 0 1 0 4.36 0a2.18 2.18 0 1 0 -4.36 0zM585.83 565.07a2.18 2.18 0 1 0 4.36 0a2.18 2.18 0 1 0 -4.36 0zM591.48 566.73a2.18 2.18 0 1 0 4.36 0a2.18 2.18 0 1 0 -4.36 0zM597.12 568.39a2.18 2.18 0 1 0 4.36 0a2.18 2.18 0 1 0 -4.36 0zM602.76 570.03a2.18 2.18 0 1 0 4.36 0a2.18 2.18 0 1 0 -4.36 0zM608.41 571.65a2.18 2.18 0 1 0 4.36 0a2.18 2.18 0 1 0 -4.36 0zM614.05 573.25a2.18 2.18 0 1 0 4.36 0a2.18 2.18 0 1 0 -4.36 0zM619.7 574.83a2.18 2.18 0 1 0 4.36 0a2.18 2.18 0 1 0 -4.36 0zM625.34 576.39a2.18 2.18 0 1 0 4.36 0a2.18 2.18 0 1 0 -4.36 0z" fill="#000000" stroke="none"/>
<path d="M256.8 204.8L212 205.3" stroke="#ee2f24" stroke-width="1" fill="none"/><path d="M203.7 205.4l9.1 -4.4v8.8z" fill="#ee2f24"/>
<path d="M345.3 462.9L393.5 462.2" stroke="#000000" stroke-width="1" fill="none"/><path d="M401.6 462.1l-8.8 -4.45v8.9z" fill="#000000"/>
<path d="M835.45 563.42 L841.29 528.2 L847.13 505.38 L852.97 488.47 L858.81 475.26 L864.65 464.16 L870.49 450.44 L876.33 437.73 L882.17 426.09 L888.02 415.42 L893.86 405.44 L899.7 396.26 L905.54 387.68 L911.38 379.43 L917.22 371.77 L923.06 364.47 L928.9 357.58 L934.74 351.08 L940.58 344.88 L946.42 338.95 L952.26 333.26 L958.1 327.82 L963.94 322.6 L969.78 317.56 L975.62 312.73 L981.47 308 L987.31 303.42 L993.15 298.97 L998.99 294.67 L1004.83 290.49 L1010.67 286.44 L1016.51 282.47 L1022.35 278.63 L1028.19 274.89 L1034.03 271.24 L1039.87 267.69 L1045.71 264.23 L1051.55 260.86 L1057.39 257.56 L1063.23 254.34 L1069.07 251.19 L1074.91 248.11 L1080.76 245.09 L1086.6 242.12 L1092.44 239.21 L1098.28 236.35 L1104.12 233.55 L1109.96 230.8 L1115.8 228.1 L1121.64 225.43 L1127.48 222.82 L1133.32 220.25 L1139.16 217.73 L1145 215.25 L1150.84 212.82 L1156.68 210.43 L1162.52 208.08 L1168.36 205.75 L1174.2 203.46 L1180.05 201.21 L1185.89 198.98 L1191.73 196.79 L1197.57 194.62 L1203.41 192.48 L1209.25 190.37 L1215.09 188.29 L1220.93 186.23 L1226.77 184.18 L1232.61 182.16 L1238.45 180.17 L1244.29 178.19 L1250.13 176.24 L1255.97 174.3 L1261.81 172.39 L1267.65 170.49 L1273.5 168.61 L1279.34 166.75 L1285.18 164.9 L1291.02 163.07 L1296.86 161.25 L1302.7 159.45 L1308.54 157.67 L1314.38 155.89 L1320.22 154.13 L1326.06 152.39 L1331.9 150.66 L1337.74 148.94 L1343.58 147.23 L1349.42 145.53 L1355.26 143.84 L1361.1 142.16 L1366.94 140.53 L1372.79 138.85 L1378.63 136.73 L1384.47 135.07 L1390.31 133.42" fill="none" stroke="#ee2f24" stroke-width="1.3" stroke-linejoin="round"/>
<path d="M832.75 563.42a2.7 2.7 0 1 0 5.4 0a2.7 2.7 0 1 0 -5.4 0zM838.59 528.2a2.7 2.7 0 1 0 5.4 0a2.7 2.7 0 1 0 -5.4 0zM844.43 505.38a2.7 2.7 0 1 0 5.4 0a2.7 2.7 0 1 0 -5.4 0zM850.27 488.47a2.7 2.7 0 1 0 5.4 0a2.7 2.7 0 1 0 -5.4 0zM856.11 475.26a2.7 2.7 0 1 0 5.4 0a2.7 2.7 0 1 0 -5.4 0zM861.95 464.16a2.7 2.7 0 1 0 5.4 0a2.7 2.7 0 1 0 -5.4 0zM867.79 450.44a2.7 2.7 0 1 0 5.4 0a2.7 2.7 0 1 0 -5.4 0zM873.63 437.73a2.7 2.7 0 1 0 5.4 0a2.7 2.7 0 1 0 -5.4 0zM879.47 426.09a2.7 2.7 0 1 0 5.4 0a2.7 2.7 0 1 0 -5.4 0zM885.32 415.42a2.7 2.7 0 1 0 5.4 0a2.7 2.7 0 1 0 -5.4 0zM891.16 405.44a2.7 2.7 0 1 0 5.4 0a2.7 2.7 0 1 0 -5.4 0zM897 396.26a2.7 2.7 0 1 0 5.4 0a2.7 2.7 0 1 0 -5.4 0zM902.84 387.68a2.7 2.7 0 1 0 5.4 0a2.7 2.7 0 1 0 -5.4 0zM908.68 379.43a2.7 2.7 0 1 0 5.4 0a2.7 2.7 0 1 0 -5.4 0zM914.52 371.77a2.7 2.7 0 1 0 5.4 0a2.7 2.7 0 1 0 -5.4 0zM920.36 364.47a2.7 2.7 0 1 0 5.4 0a2.7 2.7 0 1 0 -5.4 0zM926.2 357.58a2.7 2.7 0 1 0 5.4 0a2.7 2.7 0 1 0 -5.4 0zM932.04 351.08a2.7 2.7 0 1 0 5.4 0a2.7 2.7 0 1 0 -5.4 0zM937.88 344.88a2.7 2.7 0 1 0 5.4 0a2.7 2.7 0 1 0 -5.4 0zM943.72 338.95a2.7 2.7 0 1 0 5.4 0a2.7 2.7 0 1 0 -5.4 0zM949.56 333.26a2.7 2.7 0 1 0 5.4 0a2.7 2.7 0 1 0 -5.4 0zM955.4 327.82a2.7 2.7 0 1 0 5.4 0a2.7 2.7 0 1 0 -5.4 0zM961.24 322.6a2.7 2.7 0 1 0 5.4 0a2.7 2.7 0 1 0 -5.4 0zM967.08 317.56a2.7 2.7 0 1 0 5.4 0a2.7 2.7 0 1 0 -5.4 0zM972.92 312.73a2.7 2.7 0 1 0 5.4 0a2.7 2.7 0 1 0 -5.4 0zM978.76 308a2.7 2.7 0 1 0 5.4 0a2.7 2.7 0 1 0 -5.4 0zM984.61 303.42a2.7 2.7 0 1 0 5.4 0a2.7 2.7 0 1 0 -5.4 0zM990.45 298.97a2.7 2.7 0 1 0 5.4 0a2.7 2.7 0 1 0 -5.4 0zM996.29 294.67a2.7 2.7 0 1 0 5.4 0a2.7 2.7 0 1 0 -5.4 0zM1002.13 290.49a2.7 2.7 0 1 0 5.4 0a2.7 2.7 0 1 0 -5.4 0zM1007.97 286.44a2.7 2.7 0 1 0 5.4 0a2.7 2.7 0 1 0 -5.4 0zM1013.81 282.47a2.7 2.7 0 1 0 5.4 0a2.7 2.7 0 1 0 -5.4 0zM1019.65 278.63a2.7 2.7 0 1 0 5.4 0a2.7 2.7 0 1 0 -5.4 0zM1025.49 274.89a2.7 2.7 0 1 0 5.4 0a2.7 2.7 0 1 0 -5.4 0zM1031.33 271.24a2.7 2.7 0 1 0 5.4 0a2.7 2.7 0 1 0 -5.4 0zM1037.17 267.69a2.7 2.7 0 1 0 5.4 0a2.7 2.7 0 1 0 -5.4 0zM1043.01 264.23a2.7 2.7 0 1 0 5.4 0a2.7 2.7 0 1 0 -5.4 0zM1048.85 260.86a2.7 2.7 0 1 0 5.4 0a2.7 2.7 0 1 0 -5.4 0zM1054.69 257.56a2.7 2.7 0 1 0 5.4 0a2.7 2.7 0 1 0 -5.4 0zM1060.53 254.34a2.7 2.7 0 1 0 5.4 0a2.7 2.7 0 1 0 -5.4 0zM1066.37 251.19a2.7 2.7 0 1 0 5.4 0a2.7 2.7 0 1 0 -5.4 0zM1072.21 248.11a2.7 2.7 0 1 0 5.4 0a2.7 2.7 0 1 0 -5.4 0zM1078.06 245.09a2.7 2.7 0 1 0 5.4 0a2.7 2.7 0 1 0 -5.4 0zM1083.9 242.12a2.7 2.7 0 1 0 5.4 0a2.7 2.7 0 1 0 -5.4 0zM1089.74 239.21a2.7 2.7 0 1 0 5.4 0a2.7 2.7 0 1 0 -5.4 0zM1095.58 236.35a2.7 2.7 0 1 0 5.4 0a2.7 2.7 0 1 0 -5.4 0zM1101.42 233.55a2.7 2.7 0 1 0 5.4 0a2.7 2.7 0 1 0 -5.4 0zM1107.26 230.8a2.7 2.7 0 1 0 5.4 0a2.7 2.7 0 1 0 -5.4 0zM1113.1 228.1a2.7 2.7 0 1 0 5.4 0a2.7 2.7 0 1 0 -5.4 0zM1118.94 225.43a2.7 2.7 0 1 0 5.4 0a2.7 2.7 0 1 0 -5.4 0zM1124.78 222.82a2.7 2.7 0 1 0 5.4 0a2.7 2.7 0 1 0 -5.4 0zM1130.62 220.25a2.7 2.7 0 1 0 5.4 0a2.7 2.7 0 1 0 -5.4 0zM1136.46 217.73a2.7 2.7 0 1 0 5.4 0a2.7 2.7 0 1 0 -5.4 0zM1142.3 215.25a2.7 2.7 0 1 0 5.4 0a2.7 2.7 0 1 0 -5.4 0zM1148.14 212.82a2.7 2.7 0 1 0 5.4 0a2.7 2.7 0 1 0 -5.4 0zM1153.98 210.43a2.7 2.7 0 1 0 5.4 0a2.7 2.7 0 1 0 -5.4 0zM1159.82 208.08a2.7 2.7 0 1 0 5.4 0a2.7 2.7 0 1 0 -5.4 0zM1165.66 205.75a2.7 2.7 0 1 0 5.4 0a2.7 2.7 0 1 0 -5.4 0zM1171.5 203.46a2.7 2.7 0 1 0 5.4 0a2.7 2.7 0 1 0 -5.4 0zM1177.35 201.21a2.7 2.7 0 1 0 5.4 0a2.7 2.7 0 1 0 -5.4 0zM1183.19 198.98a2.7 2.7 0 1 0 5.4 0a2.7 2.7 0 1 0 -5.4 0zM1189.03 196.79a2.7 2.7 0 1 0 5.4 0a2.7 2.7 0 1 0 -5.4 0zM1194.87 194.62a2.7 2.7 0 1 0 5.4 0a2.7 2.7 0 1 0 -5.4 0zM1200.71 192.48a2.7 2.7 0 1 0 5.4 0a2.7 2.7 0 1 0 -5.4 0zM1206.55 190.37a2.7 2.7 0 1 0 5.4 0a2.7 2.7 0 1 0 -5.4 0zM1212.39 188.29a2.7 2.7 0 1 0 5.4 0a2.7 2.7 0 1 0 -5.4 0zM1218.23 186.23a2.7 2.7 0 1 0 5.4 0a2.7 2.7 0 1 0 -5.4 0zM1224.07 184.18a2.7 2.7 0 1 0 5.4 0a2.7 2.7 0 1 0 -5.4 0zM1229.91 182.16a2.7 2.7 0 1 0 5.4 0a2.7 2.7 0 1 0 -5.4 0zM1235.75 180.17a2.7 2.7 0 1 0 5.4 0a2.7 2.7 0 1 0 -5.4 0zM1241.59 178.19a2.7 2.7 0 1 0 5.4 0a2.7 2.7 0 1 0 -5.4 0zM1247.43 176.24a2.7 2.7 0 1 0 5.4 0a2.7 2.7 0 1 0 -5.4 0zM1253.27 174.3a2.7 2.7 0 1 0 5.4 0a2.7 2.7 0 1 0 -5.4 0zM1259.11 172.39a2.7 2.7 0 1 0 5.4 0a2.7 2.7 0 1 0 -5.4 0zM1264.95 170.49a2.7 2.7 0 1 0 5.4 0a2.7 2.7 0 1 0 -5.4 0zM1270.8 168.61a2.7 2.7 0 1 0 5.4 0a2.7 2.7 0 1 0 -5.4 0zM1276.64 166.75a2.7 2.7 0 1 0 5.4 0a2.7 2.7 0 1 0 -5.4 0zM1282.48 164.9a2.7 2.7 0 1 0 5.4 0a2.7 2.7 0 1 0 -5.4 0zM1288.32 163.07a2.7 2.7 0 1 0 5.4 0a2.7 2.7 0 1 0 -5.4 0zM1294.16 161.25a2.7 2.7 0 1 0 5.4 0a2.7 2.7 0 1 0 -5.4 0zM1300 159.45a2.7 2.7 0 1 0 5.4 0a2.7 2.7 0 1 0 -5.4 0zM1305.84 157.67a2.7 2.7 0 1 0 5.4 0a2.7 2.7 0 1 0 -5.4 0zM1311.68 155.89a2.7 2.7 0 1 0 5.4 0a2.7 2.7 0 1 0 -5.4 0zM1317.52 154.13a2.7 2.7 0 1 0 5.4 0a2.7 2.7 0 1 0 -5.4 0zM1323.36 152.39a2.7 2.7 0 1 0 5.4 0a2.7 2.7 0 1 0 -5.4 0zM1329.2 150.66a2.7 2.7 0 1 0 5.4 0a2.7 2.7 0 1 0 -5.4 0zM1335.04 148.94a2.7 2.7 0 1 0 5.4 0a2.7 2.7 0 1 0 -5.4 0zM1340.88 147.23a2.7 2.7 0 1 0 5.4 0a2.7 2.7 0 1 0 -5.4 0zM1346.72 145.53a2.7 2.7 0 1 0 5.4 0a2.7 2.7 0 1 0 -5.4 0zM1352.56 143.84a2.7 2.7 0 1 0 5.4 0a2.7 2.7 0 1 0 -5.4 0zM1358.4 142.16a2.7 2.7 0 1 0 5.4 0a2.7 2.7 0 1 0 -5.4 0zM1364.24 140.53a2.7 2.7 0 1 0 5.4 0a2.7 2.7 0 1 0 -5.4 0zM1370.09 138.85a2.7 2.7 0 1 0 5.4 0a2.7 2.7 0 1 0 -5.4 0zM1375.93 136.73a2.7 2.7 0 1 0 5.4 0a2.7 2.7 0 1 0 -5.4 0zM1381.77 135.07a2.7 2.7 0 1 0 5.4 0a2.7 2.7 0 1 0 -5.4 0zM1387.61 133.42a2.7 2.7 0 1 0 5.4 0a2.7 2.7 0 1 0 -5.4 0z" fill="#ee2f24" stroke="none"/>
<path d="M835.45 86.81 L841.29 84.25 L847.13 83.35 L852.97 83.15 L858.81 83.05 L864.65 82.75 L870.49 94.26 L876.33 124.18 L882.17 147.2 L888.02 168.71 L893.86 196.33 L899.7 218.35 L905.54 235.36 L911.38 247.57 L917.22 258.08 L923.06 266.38 L928.9 276.39 L934.74 285.39 L940.58 293.4 L946.42 299.3 L952.26 305.11 L958.1 311.41 L963.94 317.12 L969.78 321.82 L975.62 325.92 L981.47 329.93 L987.31 336.33 L993.15 342.63 L998.99 349.34 L1004.83 355.14 L1010.67 360.65 L1016.51 368.15 L1022.35 374.36 L1028.19 380.16 L1034.03 385.46 L1039.87 390.17 L1045.71 395.47 L1051.55 400.17 L1057.39 404.38 L1063.23 407.98 L1069.07 411.58 L1074.91 416.19 L1080.76 420.19 L1086.6 424.69 L1092.44 428.89 L1098.28 432.7 L1104.12 436.9 L1109.96 441 L1115.8 444.71 L1121.64 448.51 L1127.48 452.21 L1133.32 455.71 L1139.16 459.42 L1145 462.42 L1150.84 465.22 L1156.68 468.02 L1162.52 471.02 L1168.36 473.53 L1174.2 476.03 L1180.05 478.53 L1185.89 480.93 L1191.73 483.43 L1197.57 485.73 L1203.41 487.94 L1209.25 490.14 L1215.09 492.74 L1220.93 495.25 L1226.77 497.7 L1232.61 500.14 L1238.45 502.57 L1244.29 505.05 L1250.13 507.57 L1255.97 510.12 L1261.81 512.68 L1267.65 515.23 L1273.5 517.76 L1279.34 520.24 L1285.18 522.69 L1291.02 525.13 L1296.86 527.58 L1302.7 530.07 L1308.54 532.7 L1314.38 535.37 L1320.22 538.05 L1326.06 541 L1331.9 543.37 L1337.74 545.74 L1343.58 548.11 L1349.42 550.48 L1355.26 552.85 L1361.1 555.22 L1366.94 557.59 L1372.79 559.96 L1378.63 562.33 L1384.47 564.7 L1390.31 567.07" fill="none" stroke="#000000" stroke-width="1.5" stroke-linejoin="round"/>
<path d="M833.15 86.81a2.3 2.3 0 1 0 4.6 0a2.3 2.3 0 1 0 -4.6 0zM838.99 84.25a2.3 2.3 0 1 0 4.6 0a2.3 2.3 0 1 0 -4.6 0zM844.83 83.35a2.3 2.3 0 1 0 4.6 0a2.3 2.3 0 1 0 -4.6 0zM850.67 83.15a2.3 2.3 0 1 0 4.6 0a2.3 2.3 0 1 0 -4.6 0zM856.51 83.05a2.3 2.3 0 1 0 4.6 0a2.3 2.3 0 1 0 -4.6 0zM862.35 82.75a2.3 2.3 0 1 0 4.6 0a2.3 2.3 0 1 0 -4.6 0zM868.19 94.26a2.3 2.3 0 1 0 4.6 0a2.3 2.3 0 1 0 -4.6 0zM874.03 124.18a2.3 2.3 0 1 0 4.6 0a2.3 2.3 0 1 0 -4.6 0zM879.87 147.2a2.3 2.3 0 1 0 4.6 0a2.3 2.3 0 1 0 -4.6 0zM885.72 168.71a2.3 2.3 0 1 0 4.6 0a2.3 2.3 0 1 0 -4.6 0zM891.56 196.33a2.3 2.3 0 1 0 4.6 0a2.3 2.3 0 1 0 -4.6 0zM897.4 218.35a2.3 2.3 0 1 0 4.6 0a2.3 2.3 0 1 0 -4.6 0zM903.24 235.36a2.3 2.3 0 1 0 4.6 0a2.3 2.3 0 1 0 -4.6 0zM909.08 247.57a2.3 2.3 0 1 0 4.6 0a2.3 2.3 0 1 0 -4.6 0zM914.92 258.08a2.3 2.3 0 1 0 4.6 0a2.3 2.3 0 1 0 -4.6 0zM920.76 266.38a2.3 2.3 0 1 0 4.6 0a2.3 2.3 0 1 0 -4.6 0zM926.6 276.39a2.3 2.3 0 1 0 4.6 0a2.3 2.3 0 1 0 -4.6 0zM932.44 285.39a2.3 2.3 0 1 0 4.6 0a2.3 2.3 0 1 0 -4.6 0zM938.28 293.4a2.3 2.3 0 1 0 4.6 0a2.3 2.3 0 1 0 -4.6 0zM944.12 299.3a2.3 2.3 0 1 0 4.6 0a2.3 2.3 0 1 0 -4.6 0zM949.96 305.11a2.3 2.3 0 1 0 4.6 0a2.3 2.3 0 1 0 -4.6 0zM955.8 311.41a2.3 2.3 0 1 0 4.6 0a2.3 2.3 0 1 0 -4.6 0zM961.64 317.12a2.3 2.3 0 1 0 4.6 0a2.3 2.3 0 1 0 -4.6 0zM967.48 321.82a2.3 2.3 0 1 0 4.6 0a2.3 2.3 0 1 0 -4.6 0zM973.32 325.92a2.3 2.3 0 1 0 4.6 0a2.3 2.3 0 1 0 -4.6 0zM979.17 329.93a2.3 2.3 0 1 0 4.6 0a2.3 2.3 0 1 0 -4.6 0zM985.01 336.33a2.3 2.3 0 1 0 4.6 0a2.3 2.3 0 1 0 -4.6 0zM990.85 342.63a2.3 2.3 0 1 0 4.6 0a2.3 2.3 0 1 0 -4.6 0zM996.69 349.34a2.3 2.3 0 1 0 4.6 0a2.3 2.3 0 1 0 -4.6 0zM1002.53 355.14a2.3 2.3 0 1 0 4.6 0a2.3 2.3 0 1 0 -4.6 0zM1008.37 360.65a2.3 2.3 0 1 0 4.6 0a2.3 2.3 0 1 0 -4.6 0zM1014.21 368.15a2.3 2.3 0 1 0 4.6 0a2.3 2.3 0 1 0 -4.6 0zM1020.05 374.36a2.3 2.3 0 1 0 4.6 0a2.3 2.3 0 1 0 -4.6 0zM1025.89 380.16a2.3 2.3 0 1 0 4.6 0a2.3 2.3 0 1 0 -4.6 0zM1031.73 385.46a2.3 2.3 0 1 0 4.6 0a2.3 2.3 0 1 0 -4.6 0zM1037.57 390.17a2.3 2.3 0 1 0 4.6 0a2.3 2.3 0 1 0 -4.6 0zM1043.41 395.47a2.3 2.3 0 1 0 4.6 0a2.3 2.3 0 1 0 -4.6 0zM1049.25 400.17a2.3 2.3 0 1 0 4.6 0a2.3 2.3 0 1 0 -4.6 0zM1055.09 404.38a2.3 2.3 0 1 0 4.6 0a2.3 2.3 0 1 0 -4.6 0zM1060.93 407.98a2.3 2.3 0 1 0 4.6 0a2.3 2.3 0 1 0 -4.6 0zM1066.77 411.58a2.3 2.3 0 1 0 4.6 0a2.3 2.3 0 1 0 -4.6 0zM1072.61 416.19a2.3 2.3 0 1 0 4.6 0a2.3 2.3 0 1 0 -4.6 0zM1078.46 420.19a2.3 2.3 0 1 0 4.6 0a2.3 2.3 0 1 0 -4.6 0zM1084.3 424.69a2.3 2.3 0 1 0 4.6 0a2.3 2.3 0 1 0 -4.6 0zM1090.14 428.89a2.3 2.3 0 1 0 4.6 0a2.3 2.3 0 1 0 -4.6 0zM1095.98 432.7a2.3 2.3 0 1 0 4.6 0a2.3 2.3 0 1 0 -4.6 0zM1101.82 436.9a2.3 2.3 0 1 0 4.6 0a2.3 2.3 0 1 0 -4.6 0zM1107.66 441a2.3 2.3 0 1 0 4.6 0a2.3 2.3 0 1 0 -4.6 0zM1113.5 444.71a2.3 2.3 0 1 0 4.6 0a2.3 2.3 0 1 0 -4.6 0zM1119.34 448.51a2.3 2.3 0 1 0 4.6 0a2.3 2.3 0 1 0 -4.6 0zM1125.18 452.21a2.3 2.3 0 1 0 4.6 0a2.3 2.3 0 1 0 -4.6 0zM1131.02 455.71a2.3 2.3 0 1 0 4.6 0a2.3 2.3 0 1 0 -4.6 0zM1136.86 459.42a2.3 2.3 0 1 0 4.6 0a2.3 2.3 0 1 0 -4.6 0zM1142.7 462.42a2.3 2.3 0 1 0 4.6 0a2.3 2.3 0 1 0 -4.6 0zM1148.54 465.22a2.3 2.3 0 1 0 4.6 0a2.3 2.3 0 1 0 -4.6 0zM1154.38 468.02a2.3 2.3 0 1 0 4.6 0a2.3 2.3 0 1 0 -4.6 0zM1160.22 471.02a2.3 2.3 0 1 0 4.6 0a2.3 2.3 0 1 0 -4.6 0zM1166.06 473.53a2.3 2.3 0 1 0 4.6 0a2.3 2.3 0 1 0 -4.6 0zM1171.9 476.03a2.3 2.3 0 1 0 4.6 0a2.3 2.3 0 1 0 -4.6 0zM1177.75 478.53a2.3 2.3 0 1 0 4.6 0a2.3 2.3 0 1 0 -4.6 0zM1183.59 480.93a2.3 2.3 0 1 0 4.6 0a2.3 2.3 0 1 0 -4.6 0zM1189.43 483.43a2.3 2.3 0 1 0 4.6 0a2.3 2.3 0 1 0 -4.6 0zM1195.27 485.73a2.3 2.3 0 1 0 4.6 0a2.3 2.3 0 1 0 -4.6 0zM1201.11 487.94a2.3 2.3 0 1 0 4.6 0a2.3 2.3 0 1 0 -4.6 0zM1206.95 490.14a2.3 2.3 0 1 0 4.6 0a2.3 2.3 0 1 0 -4.6 0zM1212.79 492.74a2.3 2.3 0 1 0 4.6 0a2.3 2.3 0 1 0 -4.6 0zM1218.63 495.25a2.3 2.3 0 1 0 4.6 0a2.3 2.3 0 1 0 -4.6 0zM1224.47 497.7a2.3 2.3 0 1 0 4.6 0a2.3 2.3 0 1 0 -4.6 0zM1230.31 500.14a2.3 2.3 0 1 0 4.6 0a2.3 2.3 0 1 0 -4.6 0zM1236.15 502.57a2.3 2.3 0 1 0 4.6 0a2.3 2.3 0 1 0 -4.6 0zM1241.99 505.05a2.3 2.3 0 1 0 4.6 0a2.3 2.3 0 1 0 -4.6 0zM1247.83 507.57a2.3 2.3 0 1 0 4.6 0a2.3 2.3 0 1 0 -4.6 0zM1253.67 510.12a2.3 2.3 0 1 0 4.6 0a2.3 2.3 0 1 0 -4.6 0zM1259.51 512.68a2.3 2.3 0 1 0 4.6 0a2.3 2.3 0 1 0 -4.6 0zM1265.35 515.23a2.3 2.3 0 1 0 4.6 0a2.3 2.3 0 1 0 -4.6 0zM1271.2 517.76a2.3 2.3 0 1 0 4.6 0a2.3 2.3 0 1 0 -4.6 0zM1277.04 520.24a2.3 2.3 0 1 0 4.6 0a2.3 2.3 0 1 0 -4.6 0zM1282.88 522.69a2.3 2.3 0 1 0 4.6 0a2.3 2.3 0 1 0 -4.6 0zM1288.72 525.13a2.3 2.3 0 1 0 4.6 0a2.3 2.3 0 1 0 -4.6 0zM1294.56 527.58a2.3 2.3 0 1 0 4.6 0a2.3 2.3 0 1 0 -4.6 0zM1300.4 530.07a2.3 2.3 0 1 0 4.6 0a2.3 2.3 0 1 0 -4.6 0zM1306.24 532.7a2.3 2.3 0 1 0 4.6 0a2.3 2.3 0 1 0 -4.6 0zM1312.08 535.37a2.3 2.3 0 1 0 4.6 0a2.3 2.3 0 1 0 -4.6 0zM1317.92 538.05a2.3 2.3 0 1 0 4.6 0a2.3 2.3 0 1 0 -4.6 0zM1323.76 541a2.3 2.3 0 1 0 4.6 0a2.3 2.3 0 1 0 -4.6 0zM1329.6 543.37a2.3 2.3 0 1 0 4.6 0a2.3 2.3 0 1 0 -4.6 0zM1335.44 545.74a2.3 2.3 0 1 0 4.6 0a2.3 2.3 0 1 0 -4.6 0zM1341.28 548.11a2.3 2.3 0 1 0 4.6 0a2.3 2.3 0 1 0 -4.6 0zM1347.12 550.48a2.3 2.3 0 1 0 4.6 0a2.3 2.3 0 1 0 -4.6 0zM1352.96 552.85a2.3 2.3 0 1 0 4.6 0a2.3 2.3 0 1 0 -4.6 0zM1358.8 555.22a2.3 2.3 0 1 0 4.6 0a2.3 2.3 0 1 0 -4.6 0zM1364.64 557.59a2.3 2.3 0 1 0 4.6 0a2.3 2.3 0 1 0 -4.6 0zM1370.49 559.96a2.3 2.3 0 1 0 4.6 0a2.3 2.3 0 1 0 -4.6 0zM1376.33 562.33a2.3 2.3 0 1 0 4.6 0a2.3 2.3 0 1 0 -4.6 0zM1382.17 564.7a2.3 2.3 0 1 0 4.6 0a2.3 2.3 0 1 0 -4.6 0zM1388.01 567.07a2.3 2.3 0 1 0 4.6 0a2.3 2.3 0 1 0 -4.6 0z" fill="none" stroke="#000000" stroke-width="1.05"/>
<path d="M835.45 86.81 L841.29 83.45 L847.13 81.55 L852.97 80.75 L858.81 80.35 L864.65 79.25 L870.49 94.26 L876.33 124.18 L882.17 147.2 L888.02 168.71 L893.86 196.33 L899.7 218.35 L905.54 233.26 L911.38 245.87 L917.22 255.37 L923.06 263.38 L928.9 273.39 L934.74 281.39 L940.58 288.8 L946.42 294.3 L952.26 299.3 L958.1 305.11 L963.94 310.91 L969.78 315.92 L975.62 318.82 L981.47 322.62 L987.31 328.42 L993.15 334.63 L998.99 340.13 L1004.83 345.64 L1010.67 350.64 L1016.51 357.14 L1022.35 362.65 L1028.19 367.65 L1034.03 372.16 L1039.87 375.96 L1045.71 380.16 L1051.55 383.96 L1057.39 387.67 L1063.23 390.77 L1069.07 393.47 L1074.91 396.97 L1080.76 400.47 L1086.6 403.48 L1092.44 406.48 L1098.28 409.28 L1104.12 412.18 L1109.96 414.99 L1115.8 417.59 L1121.64 419.99 L1127.48 422.99 L1133.32 425.19 L1139.16 427.39 L1145 429.4 L1150.84 431 L1156.68 432.7 L1162.52 434 L1168.36 435.2 L1174.2 436.4 L1180.05 437.4 L1185.89 438.5 L1191.73 439.6 L1197.57 440.3 L1203.41 441.1 L1209.25 442 L1215.09 442.9 L1220.93 443.61 L1226.77 444.21 L1232.61 445.01 L1238.45 445.71 L1244.29 446.51 L1250.13 447.01 L1255.97 447.51 L1261.81 448.01 L1267.65 448.41 L1273.5 448.81 L1279.34 449.11 L1285.18 449.41 L1291.02 449.71 L1296.86 450.01 L1302.7 450.21 L1308.54 450.41 L1314.38 450.61 L1320.22 450.7 L1326.06 450.7 L1331.9 450.62 L1337.74 450.45 L1343.58 450.2 L1349.42 449.9 L1355.26 449.5 L1361.1 449 L1366.94 448.45 L1372.79 447.85 L1378.63 447.25 L1384.47 446.65 L1390.31 446.15" fill="none" stroke="#000000" stroke-width="1.5" stroke-linejoin="round"/>
<path d="M835.45 84.11l2.45 2.7l-2.45 2.7l-2.45 -2.7zM841.29 80.75l2.45 2.7l-2.45 2.7l-2.45 -2.7zM847.13 78.85l2.45 2.7l-2.45 2.7l-2.45 -2.7zM852.97 78.05l2.45 2.7l-2.45 2.7l-2.45 -2.7zM858.81 77.65l2.45 2.7l-2.45 2.7l-2.45 -2.7zM864.65 76.55l2.45 2.7l-2.45 2.7l-2.45 -2.7zM870.49 91.56l2.45 2.7l-2.45 2.7l-2.45 -2.7zM876.33 121.48l2.45 2.7l-2.45 2.7l-2.45 -2.7zM882.17 144.5l2.45 2.7l-2.45 2.7l-2.45 -2.7zM888.02 166.01l2.45 2.7l-2.45 2.7l-2.45 -2.7zM893.86 193.63l2.45 2.7l-2.45 2.7l-2.45 -2.7zM899.7 215.65l2.45 2.7l-2.45 2.7l-2.45 -2.7zM905.54 230.56l2.45 2.7l-2.45 2.7l-2.45 -2.7zM911.38 243.17l2.45 2.7l-2.45 2.7l-2.45 -2.7zM917.22 252.67l2.45 2.7l-2.45 2.7l-2.45 -2.7zM923.06 260.68l2.45 2.7l-2.45 2.7l-2.45 -2.7zM928.9 270.69l2.45 2.7l-2.45 2.7l-2.45 -2.7zM934.74 278.69l2.45 2.7l-2.45 2.7l-2.45 -2.7zM940.58 286.1l2.45 2.7l-2.45 2.7l-2.45 -2.7zM946.42 291.6l2.45 2.7l-2.45 2.7l-2.45 -2.7zM952.26 296.6l2.45 2.7l-2.45 2.7l-2.45 -2.7zM958.1 302.41l2.45 2.7l-2.45 2.7l-2.45 -2.7zM963.94 308.21l2.45 2.7l-2.45 2.7l-2.45 -2.7zM969.78 313.22l2.45 2.7l-2.45 2.7l-2.45 -2.7zM975.62 316.12l2.45 2.7l-2.45 2.7l-2.45 -2.7zM981.47 319.92l2.45 2.7l-2.45 2.7l-2.45 -2.7zM987.31 325.72l2.45 2.7l-2.45 2.7l-2.45 -2.7zM993.15 331.93l2.45 2.7l-2.45 2.7l-2.45 -2.7zM998.99 337.43l2.45 2.7l-2.45 2.7l-2.45 -2.7zM1004.83 342.94l2.45 2.7l-2.45 2.7l-2.45 -2.7zM1010.67 347.94l2.45 2.7l-2.45 2.7l-2.45 -2.7zM1016.51 354.44l2.45 2.7l-2.45 2.7l-2.45 -2.7zM1022.35 359.95l2.45 2.7l-2.45 2.7l-2.45 -2.7zM1028.19 364.95l2.45 2.7l-2.45 2.7l-2.45 -2.7zM1034.03 369.46l2.45 2.7l-2.45 2.7l-2.45 -2.7zM1039.87 373.26l2.45 2.7l-2.45 2.7l-2.45 -2.7zM1045.71 377.46l2.45 2.7l-2.45 2.7l-2.45 -2.7zM1051.55 381.26l2.45 2.7l-2.45 2.7l-2.45 -2.7zM1057.39 384.97l2.45 2.7l-2.45 2.7l-2.45 -2.7zM1063.23 388.07l2.45 2.7l-2.45 2.7l-2.45 -2.7zM1069.07 390.77l2.45 2.7l-2.45 2.7l-2.45 -2.7zM1074.91 394.27l2.45 2.7l-2.45 2.7l-2.45 -2.7zM1080.76 397.77l2.45 2.7l-2.45 2.7l-2.45 -2.7zM1086.6 400.78l2.45 2.7l-2.45 2.7l-2.45 -2.7zM1092.44 403.78l2.45 2.7l-2.45 2.7l-2.45 -2.7zM1098.28 406.58l2.45 2.7l-2.45 2.7l-2.45 -2.7zM1104.12 409.48l2.45 2.7l-2.45 2.7l-2.45 -2.7zM1109.96 412.29l2.45 2.7l-2.45 2.7l-2.45 -2.7zM1115.8 414.89l2.45 2.7l-2.45 2.7l-2.45 -2.7zM1121.64 417.29l2.45 2.7l-2.45 2.7l-2.45 -2.7zM1127.48 420.29l2.45 2.7l-2.45 2.7l-2.45 -2.7zM1133.32 422.49l2.45 2.7l-2.45 2.7l-2.45 -2.7zM1139.16 424.69l2.45 2.7l-2.45 2.7l-2.45 -2.7zM1145 426.7l2.45 2.7l-2.45 2.7l-2.45 -2.7zM1150.84 428.3l2.45 2.7l-2.45 2.7l-2.45 -2.7zM1156.68 430l2.45 2.7l-2.45 2.7l-2.45 -2.7zM1162.52 431.3l2.45 2.7l-2.45 2.7l-2.45 -2.7zM1168.36 432.5l2.45 2.7l-2.45 2.7l-2.45 -2.7zM1174.2 433.7l2.45 2.7l-2.45 2.7l-2.45 -2.7zM1180.05 434.7l2.45 2.7l-2.45 2.7l-2.45 -2.7zM1185.89 435.8l2.45 2.7l-2.45 2.7l-2.45 -2.7zM1191.73 436.9l2.45 2.7l-2.45 2.7l-2.45 -2.7zM1197.57 437.6l2.45 2.7l-2.45 2.7l-2.45 -2.7zM1203.41 438.4l2.45 2.7l-2.45 2.7l-2.45 -2.7zM1209.25 439.3l2.45 2.7l-2.45 2.7l-2.45 -2.7zM1215.09 440.2l2.45 2.7l-2.45 2.7l-2.45 -2.7zM1220.93 440.91l2.45 2.7l-2.45 2.7l-2.45 -2.7zM1226.77 441.51l2.45 2.7l-2.45 2.7l-2.45 -2.7zM1232.61 442.31l2.45 2.7l-2.45 2.7l-2.45 -2.7zM1238.45 443.01l2.45 2.7l-2.45 2.7l-2.45 -2.7zM1244.29 443.81l2.45 2.7l-2.45 2.7l-2.45 -2.7zM1250.13 444.31l2.45 2.7l-2.45 2.7l-2.45 -2.7zM1255.97 444.81l2.45 2.7l-2.45 2.7l-2.45 -2.7zM1261.81 445.31l2.45 2.7l-2.45 2.7l-2.45 -2.7zM1267.65 445.71l2.45 2.7l-2.45 2.7l-2.45 -2.7zM1273.5 446.11l2.45 2.7l-2.45 2.7l-2.45 -2.7zM1279.34 446.41l2.45 2.7l-2.45 2.7l-2.45 -2.7zM1285.18 446.71l2.45 2.7l-2.45 2.7l-2.45 -2.7zM1291.02 447.01l2.45 2.7l-2.45 2.7l-2.45 -2.7zM1296.86 447.31l2.45 2.7l-2.45 2.7l-2.45 -2.7zM1302.7 447.51l2.45 2.7l-2.45 2.7l-2.45 -2.7zM1308.54 447.71l2.45 2.7l-2.45 2.7l-2.45 -2.7zM1314.38 447.91l2.45 2.7l-2.45 2.7l-2.45 -2.7zM1320.22 448l2.45 2.7l-2.45 2.7l-2.45 -2.7zM1326.06 448l2.45 2.7l-2.45 2.7l-2.45 -2.7zM1331.9 447.92l2.45 2.7l-2.45 2.7l-2.45 -2.7zM1337.74 447.75l2.45 2.7l-2.45 2.7l-2.45 -2.7zM1343.58 447.5l2.45 2.7l-2.45 2.7l-2.45 -2.7zM1349.42 447.2l2.45 2.7l-2.45 2.7l-2.45 -2.7zM1355.26 446.8l2.45 2.7l-2.45 2.7l-2.45 -2.7zM1361.1 446.3l2.45 2.7l-2.45 2.7l-2.45 -2.7zM1366.94 445.75l2.45 2.7l-2.45 2.7l-2.45 -2.7zM1372.79 445.15l2.45 2.7l-2.45 2.7l-2.45 -2.7zM1378.63 444.55l2.45 2.7l-2.45 2.7l-2.45 -2.7zM1384.47 443.95l2.45 2.7l-2.45 2.7l-2.45 -2.7zM1390.31 443.45l2.45 2.7l-2.45 2.7l-2.45 -2.7z" fill="none" stroke="#000000" stroke-width="1.05"/>
<path d="M882.2 146.6L932 146.4" stroke="#000000" stroke-width="1.1" fill="none"/><path d="M940 146.3l-8.8 -4.6v9.2z" fill="#000000"/>
<path d="M1115.6 227.2H1067" stroke="#ee2f24" stroke-width="1" fill="none"/><path d="M1060 227.2l8.4 -4.2v8.4z" fill="#ee2f24"/>
<text x="247.2" y="137.6" font-size="21" fill="#ee2f24" font-family='"Liberation Serif", serif'>K<tspan font-size="14" dy="5">α1</tspan></text>
<text x="402.8" y="281.6" font-size="21" fill="#ee2f24" font-family='"Liberation Serif", serif'>K<tspan font-size="14" dy="5">α2</tspan></text>
<text transform="translate(19.8 527.6) rotate(-90)" font-size="24.6" fill="#ee2f24" font-family='"Liberation Sans", sans-serif' textLength="420" lengthAdjust="spacingAndGlyphs">Yield (X-rays per 100 K-shell vacancies)</text>
<text transform="translate(715.1 339) rotate(-90)" font-size="30" fill="#000000" font-family='"Liberation Serif", serif'>τ<tspan font-size="20.7" dy="7">K</tspan><tspan dy="-7">/τ</tspan></text>
<text x="-1" y="24.9" font-size="26" fill="#1a1a1a" text-anchor="start" font-family='"Liberation Sans", sans-serif' >(a)</text>
<text x="1283.8" y="430.9" font-size="21" fill="#000000" font-family='"Liberation Serif", serif'>K<tspan font-size="14" dy="5">α1</tspan></text>
<text x="1270.2" y="509.9" font-size="21" fill="#000000" font-family='"Liberation Serif", serif'>K<tspan font-size="14" dy="5">α2</tspan></text>
<text transform="translate(779.6 423.6) rotate(-90)" font-size="24.6" fill="#ee2f24" font-family='"Liberation Sans", sans-serif' textLength="234" lengthAdjust="spacingAndGlyphs">K-shell binding energy</text>
<text transform="translate(1471 510.6) rotate(-90)" font-size="24.6" fill="#505050" font-family='"Liberation Sans", sans-serif' textLength="410.5" lengthAdjust="spacingAndGlyphs">Ratio of X-ray energy to binding energy</text>
<text x="734.6" y="25.4" font-size="26" fill="#1a1a1a" text-anchor="start" font-family='"Liberation Sans", sans-serif' >(b)</text>
</svg>
</body></html>
